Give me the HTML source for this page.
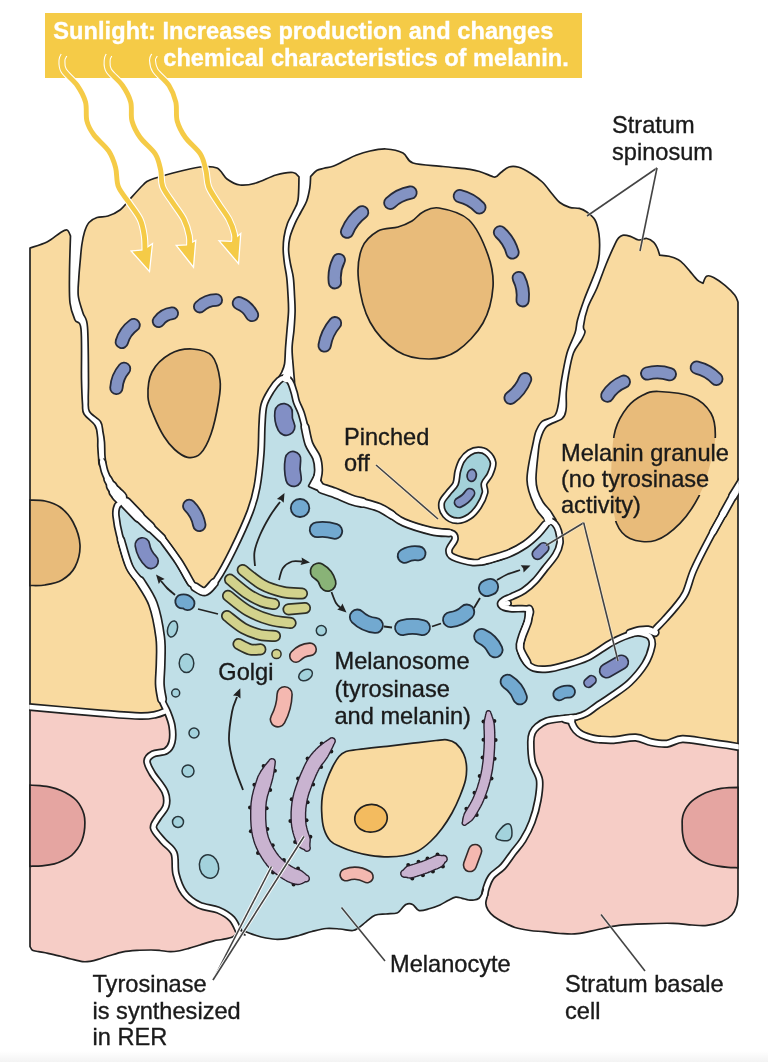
<!DOCTYPE html>
<html><head><meta charset="utf-8"><title>Melanocyte</title><style>html,body{margin:0;padding:0;background:#fff}svg{display:block}text{font-family:"Liberation Sans",sans-serif}</style></head>
<body>
<svg width="768" height="1062" viewBox="0 0 768 1062">
<defs><linearGradient id="bg" x1="0" y1="0" x2="0" y2="1"><stop offset="0" stop-color="#fff"/><stop offset="1" stop-color="#f3f3f3"/></linearGradient><mask id="mk" maskUnits="userSpaceOnUse" x="0" y="0" width="768" height="1062"><rect width="768" height="1062" fill="#fff"/><rect x="557" y="438" width="175" height="30" fill="#000"/><rect x="557" y="466" width="156" height="29" fill="#000"/><rect x="557" y="493" width="89" height="28" fill="#000"/></mask><clipPath id="cl"><rect x="29.2" y="0" width="709.6" height="1062"/></clipPath></defs>
<rect x="0" y="0" width="768" height="1062" fill="#ffffff"/>
<rect x="0" y="1051" width="768" height="11" fill="url(#bg)"/>
<rect x="45" y="13" width="537" height="65" fill="#F5CB47"/>
<path d="M30 248C32.8 247 42 244.5 47 242C52 239.5 56.7 235 60 233C63.3 231 65.2 229.5 67 230C68.8 230.5 69.9 235 70.5 236C70.3 242.2 69.6 261.8 69.5 273C69.4 284.2 69.1 295.2 70 303C70.9 310.8 73.2 315.7 75 320C76.8 324.3 79.9 319 81 329C82.1 339 81.2 367.5 81.5 380C81.8 392.5 82.1 398.3 82.5 404C82.9 409.7 81.9 410.4 84 414C86.1 417.6 92.7 421.7 95 425.5C97.3 429.3 97.1 433.4 97.6 437C98.1 440.6 97.6 443.5 97.8 447C98 450.5 98.3 455 98.6 458C98.8 461 98.6 463.3 99.3 465C100 466.7 102 467.5 102.5 468C103.4 469.9 105.9 475.6 108 479.5C110.1 483.4 113.2 488.4 115 491.5C116.8 494.6 118.2 495.4 118.5 498C118.8 500.6 117.2 505.5 117 507L130 520L175 600L180 712C177.7 711.8 170 710.6 166 711C162 711.4 160.3 713.7 156 714.5C151.7 715.3 149.3 716.2 140 716C130.7 715.8 118.3 714.7 100 713.2C81.7 711.7 41.7 708 30 707L30 248Z" fill="#F9DAA0" stroke="#212121" stroke-width="1.7" stroke-linejoin="round"/>
<path d="M299 177C298.8 180.8 299 194.2 298 200C297 205.8 294.8 208.1 293 212C291.2 215.9 289 219.1 287.5 223.3C286 227.5 284.7 232.5 284 237C283.3 241.5 283.1 245.8 283.2 250.3C283.3 254.8 283.9 259.5 284.5 264C285.1 268.5 286.1 272.1 286.7 277.3C287.3 282.5 287.7 289.3 288 295C288.3 300.7 288.7 305.8 288.5 311.6C288.3 317.4 287.5 323.9 287 330C286.5 336.1 285.9 342.6 285.5 348.3C285.1 354 285.2 360 284.5 364C283.8 368 282.6 370.2 281.5 372.5C280.4 374.8 278.6 377.1 278 378L290 390L290 480L250 570L206 610L160 560L122 506C121.4 504.7 119.7 500.4 118.5 498C117.3 495.6 116.8 494.6 115 491.5C113.2 488.4 110.1 483.4 108 479.5C105.9 475.6 103.4 469.9 102.5 468C103 467.5 105.3 467.2 105.7 465C106.1 462.8 105.1 458.8 104.9 455C104.7 451.2 104.8 445.8 104.5 442C104.2 438.2 103.7 435.4 103 432C102.3 428.6 102.8 424.9 100.5 421.5C98.2 418.1 91.5 415.1 89.5 411.5C87.5 407.9 88.5 405.2 88.3 400C88.1 394.8 88.6 392.2 88.5 380C88.4 367.8 88.4 338.2 87.5 327C86.6 315.8 84.5 318.2 83 313C81.5 307.8 79 301.8 78.3 296C77.6 290.2 78.5 283.8 78.8 278C79.1 272.2 79.7 266.5 80.2 261C80.7 255.5 81.1 249.8 81.8 245C82.5 240.2 83.3 235.8 84.5 232C85.7 228.2 86.9 224.9 89 222.5C91.1 220.1 93.8 218.6 97 217.5C100.2 216.4 104.2 217.2 108 216C111.8 214.8 116.3 212.8 120 210C123.7 207.2 126.2 203.2 130 199C133.8 194.8 139.7 188.2 143 185C146.3 181.8 145 182 150 180C155 178 164.7 175.2 173 173C181.3 170.8 192.7 167.8 200 167C207.3 166.2 212.5 166 217 168C221.5 170 223.2 176.2 227 179C230.8 181.8 235.2 184.3 240 185C244.8 185.7 250 184.7 256 183C262 181.3 269.8 176.8 276 175C282.2 173.2 289.2 172.2 293 172.5C296.8 172.8 298 176.2 299 177Z" fill="#F9DAA0" stroke="#212121" stroke-width="1.7" stroke-linejoin="round"/>
<path d="M310.6 176.5C311.6 175.5 314.5 171.9 316.7 170.5C318.9 169.1 321.3 169 324 168.3C326.7 167.6 329.5 167.6 333 166.3C336.5 165 341.2 162.3 345 160.5C348.8 158.7 351.8 156.9 356 155.3C360.2 153.7 365 152.1 370 151C375 149.9 380.5 148.7 386 149C391.5 149.3 398.5 150.7 403 153C407.5 155.3 406.3 160.8 413 163C419.7 165.2 433.5 165.4 443 166.5C452.5 167.6 463.6 168.4 470 169.3C476.4 170.2 478.1 171.1 481.7 172.2C485.3 173.3 489.1 175.3 491.5 176.1C493.9 176.9 494.2 177.5 495.8 176.8C497.4 176.2 499 173.8 501.2 172.2C503.4 170.6 506.1 167.8 509 167C511.9 166.2 515.2 166.3 518.8 167.3C522.4 168.3 526.6 170.8 530.5 173.2C534.4 175.6 538.7 178.6 542.3 182C545.9 185.4 549.1 190.3 552 193.7C554.9 197.1 556.9 200.2 559.8 202.5C562.7 204.8 566.3 206.4 569.6 207.4C572.9 208.4 576.5 207.6 579.4 208.4C582.3 209.2 584.6 210.4 587.2 212.3C589.8 214.2 593 216.4 595 220C597 223.6 598.1 228.7 598.9 233.7C599.6 238.7 599.8 244.4 599.5 250C599.2 255.6 599.6 258.7 597 267C594.4 275.3 587.2 291.2 584 300C580.8 308.8 579 314.5 577.5 320C576 325.5 576.8 327.5 575 333C573.2 338.5 569.2 345.2 567 353C564.8 360.8 563 371.3 561.5 380C560 388.7 559.4 399 558.2 405C557 411 556.9 413.3 554.3 416C551.7 418.7 545.4 418.9 542.4 421.2C539.4 423.5 538 426.7 536.5 430C535 433.3 535.1 432.7 533.5 441C531.9 449.3 526.8 469 527 480C527.2 491 532 500.3 535 507C538 513.7 543.3 517.8 545 520L555 535L520 570L470 585L400 545L330 510L300 480L295 400L294.5 381C294.3 378.8 293.8 373.4 293.4 368C293 362.6 292 354.6 292.1 348.3C292.2 342 293.5 336.1 294 330C294.5 323.9 295 317.4 295.1 311.6C295.2 305.8 294.8 300.7 294.5 295C294.2 289.3 294 282.5 293.3 277.3C292.6 272.1 291.3 268.5 290.5 264C289.7 259.5 288.7 254.8 288.6 250.3C288.5 245.8 288.9 241.5 290 237C291.1 232.5 293.3 227.5 295.1 223.3C296.9 219.1 299.1 215.7 301 212C302.9 208.3 305.1 205.3 306.6 201.3C308.1 197.3 309.1 192.1 309.8 188C310.5 183.9 310.5 178.4 310.6 176.5Z" fill="#F9DAA0" stroke="#212121" stroke-width="1.7" stroke-linejoin="round"/>
<path d="M556 520C555 518.4 552.2 513.5 550 510.5C547.8 507.5 545.1 505.4 543 502C540.9 498.6 538.7 494 537.5 490C536.3 486 535.9 483.8 536 478C536.1 472.2 537.3 461.2 538 455C538.7 448.8 538.6 445.7 540 441C541.4 436.3 542.7 430.5 546.4 426.8C550.1 423.1 558.9 421.5 562.2 418.6C565.5 415.7 565.4 413.8 566.1 409.4C566.8 405 565.9 397.9 566.3 392.2C566.7 386.5 567.3 381.5 568.5 375C569.7 368.5 571.3 358.8 573.5 353C575.7 347.2 579.6 343.5 581.5 340C583.4 336.5 584.7 334.3 585 332C585.3 329.7 583 330.2 583.5 326C584 321.8 585.8 313.3 588 307C590.2 300.7 594 295.1 597 288C600 280.9 603 271.9 606 264.5C609 257.1 613.1 248 615.2 243.6C617.3 239.2 617.3 239.4 618.5 238C619.7 236.6 620.5 235.6 622.5 235.3C624.5 235 627.7 235.6 630.4 236.4C633.1 237.2 635.9 239.7 638.6 240C641.3 240.3 644.3 238.1 646.8 238.5C649.3 238.9 652 240.6 653.8 242.3C655.6 244 656.5 246.3 657.5 248.5C658.5 250.7 659.3 254.1 659.7 255.2C661.2 255.4 665.9 255.5 669 256.3C672.1 257.1 675.8 258.4 678.4 259.8C681 261.2 682.5 263 684.5 265C686.5 267 688.1 269.1 690.2 271.6C692.3 274.1 695.1 277.9 697.2 279.8C699.3 281.8 702 282.7 703 283.3C703.6 282.1 704.8 277.2 706.6 276.2C708.4 275.2 710.5 275.8 713.6 277.4C716.7 279 721.8 282.7 725.3 285.6C728.8 288.5 732.6 292.3 734.7 295C736.8 297.7 737.5 300.8 738 302L738 486.5C737 488.4 734.1 494.1 732 498C729.9 501.9 729.2 503 725.3 510C721.4 517 714 530 708.7 540C703.4 550 697.6 561.2 693.7 570C689.8 578.8 688.5 586.8 685.5 593C682.5 599.2 678.9 602.7 675.5 607C672.1 611.3 668.3 615.3 665 619C661.7 622.7 659.7 623 655.5 629C651.3 635 642.6 650.7 640 655L600 680L540 690L505 650L495 600L520 580L550 555L556 520Z" fill="#F9DAA0" stroke="#212121" stroke-width="1.7" stroke-linejoin="round"/>
<path d="M738 486.5C737 488.4 734.1 494.1 732 498C729.9 501.9 729.2 503 725.3 510C721.4 517 714 530 708.7 540C703.4 550 697.6 561.2 693.7 570C689.8 578.8 688.5 586.8 685.5 593C682.5 599.2 678.9 602.7 675.5 607C672.1 611.3 668.3 615.3 665 619C661.7 622.7 658 622.2 655.5 629C653 635.8 650.9 654.8 650 660L600 690L565 712C566 712.9 569.8 715.6 571 717.5C572.2 719.4 571.2 721.4 572 723.5C572.8 725.6 574.1 728.1 575.8 730C577.5 731.9 579.2 733.4 582 734.8C584.8 736.2 589.5 737.6 592.5 738.4C595.5 739.2 596.5 739.2 600 739.5C603.5 739.8 607.8 740.3 613.7 740C619.6 739.7 629.4 737.1 635.6 737.5C641.9 737.9 646 741.2 651.2 742.2C656.4 743.2 661.7 744.2 666.9 743.7C672.1 743.2 675.7 739.2 682.5 739C689.3 738.8 698.2 740.9 707.5 742.2C716.8 743.5 732.9 746.1 738 746.9L738 486.5Z" fill="#F9DAA0" stroke="#212121" stroke-width="1.7" stroke-linejoin="round"/>
<path d="M30 707C41.7 708 81.7 711.7 100 713.2C118.3 714.7 130.7 715.8 140 716C149.3 716.2 151.7 715.3 156 714.5C160.3 713.7 160.3 710.1 166 711C171.7 711.9 186 718.5 190 720L190 880L245 935L238 932C237.1 932.8 235.2 935.8 232.5 937C229.8 938.2 225.1 938.9 222 939.5C218.9 940.1 217.4 939.9 213.7 940.8C210 941.7 204.2 943.7 200 945C195.8 946.3 192.4 947.4 188.7 948.4C185 949.4 181.1 950.5 178 951C174.9 951.5 173 951.7 170 951.6C167 951.5 163.2 950.8 160 950.5C156.8 950.2 154.8 950 151 950C147.2 950 141.7 950 137 950.3C132.3 950.6 127.5 950.9 123 951.8C118.5 952.7 114.2 954.2 110 955.5C105.8 956.8 101.3 958.4 98 959.4C94.7 960.4 92.6 960.9 90 961.3C87.4 961.7 85.7 962 82.5 961.6C79.3 961.2 74.7 959.9 71 959C67.3 958.1 64.4 957.2 60.6 956.2C56.8 955.2 51.6 954.1 48 953.3C44.4 952.5 41.3 952.1 38.7 951.6C36.1 951.1 34 951.1 32.5 950.3C31.1 949.4 30.4 947.1 30 946.5L30 707Z" fill="#F6CDC6" stroke="#212121" stroke-width="1.7" stroke-linejoin="round"/>
<path d="M738 746.9C732.9 746.1 716.8 743.5 707.5 742.2C698.2 740.9 689.3 738.8 682.5 739C675.7 739.2 672.1 743.2 666.9 743.7C661.7 744.2 656.4 743.2 651.2 742.2C646 741.2 641.9 737.9 635.6 737.5C629.4 737.1 619.6 739.7 613.7 740C607.8 740.3 603.5 739.8 600 739.5C596.5 739.2 595.5 739.2 592.5 738.4C589.5 737.6 584.8 736.2 582 734.8C579.2 733.4 577.5 731.9 575.8 730C574.1 728.1 572.8 725.6 572 723.5C571.2 721.4 573 719.4 571 717.5C569 715.6 561.8 712.9 560 712L515 730L515 840L478 890L487.5 895.5C487.2 896.8 485.7 901 485.8 903.4C485.9 905.8 486.6 907.8 488 910C489.4 912.2 491.3 914.4 494 916.5C496.7 918.6 500.5 920.7 504 922.5C507.5 924.3 510.7 926.2 515 927.5C519.3 928.8 525.2 929.8 530 930.5C534.8 931.2 539 931.2 544 931.7C549 932.2 554.4 933.2 560 933.5C565.6 933.8 571.2 934.4 577.5 933.7C583.8 933 591.1 930.9 598 929.5C604.9 928.1 611.2 926.4 619 925.4C626.8 924.4 636 924.1 645 923.8C654 923.4 665.2 923.1 673 923.3C680.8 923.5 686.3 924.6 692 925C697.7 925.4 702 926 707 925.4C712 924.8 717.9 923.2 722 921.5C726.1 919.8 729.3 917.6 731.7 915C734.1 912.4 735.5 909.3 736.5 906C737.5 902.7 737.8 896.8 738 895L738 746.9Z" fill="#F6CDC6" stroke="#212121" stroke-width="1.7" stroke-linejoin="round"/>
<path d="M30 500C32.5 500.2 40 499.8 45 501C50 502.2 55.3 503.5 60 507C64.7 510.5 69.7 515.7 73 522C76.3 528.3 79.7 537.5 80 545C80.3 552.5 78 561.2 75 567C72 572.8 67 577 62 580C57 583 50.3 584.1 45 585C39.7 585.9 32.5 585.4 30 585.5L30 500Z" fill="#E8BB7A" stroke="#212121" stroke-width="1.7"/>
<path d="M192 349C199 349.3 207.3 350.8 212 356C216.7 361.2 218.9 372.3 220 380C221.1 387.7 220 393 218.5 402C217 411 214 425.4 211 434C208 442.6 204.4 449.6 200.5 453.5C196.6 457.4 191.9 458 187.6 457.3C183.3 456.6 178.5 453 174.6 449.5C170.7 446 167.5 442.1 164 436.5C160.5 430.9 156.4 422.2 153.7 415.6C151 409 148.3 404.3 148 397C147.7 389.7 148.3 379.2 152 372C155.7 364.8 163.3 357.8 170 354C176.7 350.2 185 348.7 192 349Z" fill="#E8BB7A" stroke="#212121" stroke-width="1.7"/>
<path d="M358.5 280C357.2 267.7 358.8 256.2 362 248C365.2 239.8 372 234.5 378 231C384 227.5 392.3 228.7 398 227C403.7 225.3 407.8 223.5 412 221C416.2 218.5 418.5 214.2 423 212C427.5 209.8 431.3 206.7 439 208C446.7 209.3 460.8 212.2 469 220C477.2 227.8 484 243.8 488 255C492 266.2 493.8 275.7 493 287C492.2 298.3 489 312.3 483 323C477 333.7 466 345 457 351C448 357 439 359 429 359C419 359 406.8 357.2 397 351C387.2 344.8 376.4 333.8 370 322C363.6 310.2 359.8 292.3 358.5 280Z" fill="#E8BB7A" stroke="#212121" stroke-width="1.7"/>
<path d="M658.7 391.5C666.9 391.8 683.3 393.1 692 396.7C700.7 400.3 707.1 406.6 711 413.3C714.9 420 715.5 427.8 715.3 436.7C715 445.6 712.3 456.7 709.5 466.7C706.7 476.7 703.6 487.3 698.7 496.7C693.8 506.1 687.2 516 680 523.3C672.8 530.6 663.6 538 655.3 540.5C647 543 636.5 541.4 630 538.5C623.5 535.6 619.5 530.8 616.5 523.3C613.5 515.8 612.8 503.3 612 493.3C611.2 483.3 611 473.9 611.5 463.3C612 452.8 612.6 439.4 615.3 430C618 420.6 622.9 412.8 627.5 407C632.1 401.2 637.8 397.6 643 395C648.2 392.4 650.5 391.2 658.7 391.5Z" fill="#E8BB7A"/>
<g mask="url(#mk)"><path d="M658.7 391.5C666.9 391.8 683.3 393.1 692 396.7C700.7 400.3 707.1 406.6 711 413.3C714.9 420 715.5 427.8 715.3 436.7C715 445.6 712.3 456.7 709.5 466.7C706.7 476.7 703.6 487.3 698.7 496.7C693.8 506.1 687.2 516 680 523.3C672.8 530.6 663.6 538 655.3 540.5C647 543 636.5 541.4 630 538.5C623.5 535.6 619.5 530.8 616.5 523.3C613.5 515.8 612.8 503.3 612 493.3C611.2 483.3 611 473.9 611.5 463.3C612 452.8 612.6 439.4 615.3 430C618 420.6 622.9 412.8 627.5 407C632.1 401.2 637.8 397.6 643 395C648.2 392.4 650.5 391.2 658.7 391.5Z" fill="none" stroke="#212121" stroke-width="1.7"/></g>
<path d="M30 785.2C31.7 785.3 36.5 785.2 40 785.6C43.5 786 47.7 786.5 51.2 787.3C54.7 788.1 57.9 789.2 61 790.5C64.1 791.8 67.4 793.5 70 795.2C72.6 796.9 74.7 798.5 76.5 800.5C78.3 802.5 79.7 804.6 80.9 806.9C82.2 809.2 83.3 811.9 84 814.5C84.7 817.1 84.9 819.6 84.9 822.5C84.9 825.4 84.7 828.9 84.2 832C83.7 835.1 82.8 838.4 81.7 841.2C80.6 844 79.2 846.4 77.5 848.8C75.8 851.1 73.9 853.4 71.6 855.3C69.3 857.2 66.4 858.9 63.5 860.3C60.6 861.7 58 863 54.4 863.9C50.8 864.8 46.1 865.4 42 865.8C37.9 866.2 32 866.2 30 866.3L30 785.2Z" fill="#E5A5A1" stroke="#212121" stroke-width="1.7"/>
<path d="M738 787.3C736.7 787.3 732.8 787.4 730 787.6C727.2 787.8 724 788 721.2 788.4C718.4 788.8 715.6 789.5 713 790.2C710.4 790.9 708.1 791.7 705.6 792.8C703.1 793.9 700.3 795.3 698 796.7C695.7 798.1 693.5 799.7 691.6 801.4C689.7 803.1 688.1 805.1 686.8 807C685.5 808.9 684.5 811 683.7 813C683 815 682.5 816.9 682.3 819C682 821.1 682.2 823.3 682.2 825.6C682.2 827.9 682.2 830.6 682.5 833C682.8 835.4 683.1 837.5 683.7 839.7C684.3 841.9 685.2 844.2 686.2 846.3C687.2 848.4 688.4 850.4 690 852.2C691.6 854 693.6 855.7 695.7 857.3C697.8 858.9 700.1 860.4 702.5 861.6C704.9 862.8 707.4 863.7 710 864.5C712.6 865.3 715 865.7 718 866.2C721 866.7 724.7 867.1 728 867.4C731.3 867.7 736.3 867.7 738 867.8L738 787.3Z" fill="#E5A5A1" stroke="#212121" stroke-width="1.7"/>
<path d="M239 932C237.8 929.8 235.5 922.7 232 919C228.5 915.3 223.5 912.3 218 910C212.5 907.7 204.7 907.8 199 905C193.3 902.2 187.8 898.2 184 893C180.2 887.8 177.7 880.7 176 874C174.3 867.3 176.2 858.5 174 853C171.8 847.5 166.4 845.2 163 841C159.6 836.8 154.3 831.8 153.5 828C152.7 824.2 155.9 821.7 158 818C160.1 814.3 164.8 810.3 166 806C167.2 801.7 167.3 797.5 165 792C162.7 786.5 155 778.2 152 773C149 767.8 146.8 764.2 147 761C147.2 757.8 149.8 755.7 153 754C156.2 752.3 162.8 753 166 751C169.2 749 171 746.2 172 742C173 737.8 172.8 731 172 726C171.2 721 169.2 716.3 167.5 712C165.8 707.7 163.3 704.7 162 700C160.7 695.3 160 690.1 159.8 684C159.6 677.9 160.5 671.1 160.6 663.3C160.7 655.5 161.5 647.2 160.2 637.3C158.9 627.4 155.7 612.2 153 604C150.3 595.8 147.9 594.2 144 588C140.1 581.8 133.6 575.8 129.5 567C125.4 558.2 121.8 543.5 119.5 535C117.2 526.5 116.5 520.5 116 516C115.5 511.5 115.9 510.1 116.5 508C117.1 505.9 118 504.3 119.5 503.5C121 502.7 122.6 500.8 125.8 503C129 505.2 132.9 510.7 138.8 516.5C144.8 522.3 154.9 530.5 161.5 538C168.1 545.5 173.6 554 178.5 561.5C183.4 569 186.6 578 191 583C195.4 588 200.7 592.2 205 591.5C209.3 590.8 212.3 585.9 217 579C221.7 572.1 227.5 561.2 233 550C238.5 538.8 246 522.5 250 512C254 501.5 255.2 496.8 257 487C258.8 477.2 260.2 463.3 261 453C261.8 442.7 261.5 433 262 425C262.5 417 262.4 410.8 264 405C265.6 399.2 269 394.1 271.5 390C274 385.9 276.8 382.5 279 380.5C281.2 378.5 282.7 377.8 284.5 378C286.3 378.2 288.4 379.2 290 381.5C291.6 383.8 292.9 388.6 294 392C295.1 395.4 295.3 398.5 296.5 402C297.7 405.5 299.7 408.5 301.2 413C302.7 417.5 304.2 423.8 305.5 429C306.8 434.2 307.2 439.2 309 444C310.8 448.8 314.9 453.2 316.5 457.5C318.1 461.8 318.5 466 318.5 470C318.5 474 315.9 478.4 316.5 481.5C317.1 484.6 319.1 486.7 322 488.5C324.9 490.3 330.5 491.2 334 492.5C337.5 493.8 339.8 495 343 496.3C346.2 497.6 349.8 499.4 353.5 500.5C357.2 501.6 360.8 501.8 365 503C369.2 504.2 374.5 505.5 379 507.5C383.5 509.5 387.8 512.5 392 515C396.2 517.5 397.5 519.8 404 522.5C410.5 525.2 423.2 529.2 431 531C438.8 532.8 447 531.7 451 533C455 534.3 455.3 536.2 455 539C454.7 541.8 449.3 547 449 550C448.7 553 449 554.9 453 557C457 559.1 466.8 562 473 562.5C479.2 563 484.1 561.5 490 560C495.9 558.5 502.4 556.2 508.3 553.6C514.2 551 520.4 547.7 525.2 544.5C530 541.3 533.7 537.8 537 534.5C540.3 531.2 542.8 527.2 545 525C547.2 522.8 548.3 521.7 550 521.5C551.7 521.3 553.6 522.4 555 524C556.4 525.6 557.7 527.8 558.5 531C559.3 534.2 560.5 539 560 543C559.5 547 558 550.8 555.5 555C553 559.2 548.4 564.2 545 568.5C541.6 572.8 538.5 577.3 535 581C531.5 584.7 527.8 587.9 524 590.5C520.2 593.1 515.3 594.9 512 596.5C508.7 598.1 505.9 598.8 504 600C502.1 601.2 500.5 602.5 500.5 603.7C500.5 604.9 502.1 606.4 504 607.3C505.9 608.1 507.8 608.4 512 608.8C516.2 609.2 526.9 607.5 529.5 609.5C532.1 611.5 528.8 616.4 527.5 621C526.2 625.6 523.2 632.2 522 637C520.8 641.8 519.8 645.8 520.5 650C521.2 654.2 523.8 659 526 662C528.2 665 530.3 667 534 668.2C537.7 669.4 543 669.4 548 669C553 668.6 557.2 667.5 563.7 665.6C570.2 663.7 579.1 661.7 587.2 657.8C595.3 653.9 604.4 646.3 612.2 642.2C620 638.1 628.6 634.7 634 633.3C639.4 631.9 641.8 633.3 644.5 634C647.2 634.7 649.2 635.5 650.5 637.5C651.8 639.5 652.9 641.6 652 646C651.1 650.4 648.8 657.9 645 664C641.2 670.1 635.1 677.3 629.4 682.8C623.7 688.2 616 692.8 610.6 696.7C605.2 700.6 600.8 703.2 596.7 706C592.6 708.8 589.5 711.6 586.2 713.4C582.9 715.2 581.1 715.9 577 716.8C572.9 717.6 566.8 717.8 561.7 718.5C556.6 719.2 550.6 719.7 546.5 721C542.4 722.3 539.7 724.5 537.3 726.5C534.9 728.5 533.4 730.4 532.3 733C531.2 735.6 530.8 737.1 530.8 742C530.8 746.9 531 756.2 532.5 762.5C534 768.8 538.6 773.8 539.5 780C540.4 786.2 539.2 793 538 800C536.8 807 534.5 815.3 532 822C529.5 828.7 526.2 834.8 523 840C519.8 845.2 516.3 848.6 513 853C509.7 857.4 506.6 862.6 503 866.5C499.4 870.4 494.3 872.9 491.5 876.5C488.7 880.1 487.3 884.9 486.2 888C485.1 891.1 485 893.8 484.8 895L483.3 889C483 889.9 482.2 893 481.5 894.5C480.8 896 480.2 897.3 479 898.2C477.8 899.1 475.7 899.7 474 900C472.3 900.3 470.6 900.3 468.6 900C466.6 899.7 464.2 898.8 462 898.3C459.8 897.8 457.9 896.8 455.6 897.2C453.3 897.6 450.6 899.2 448 900.5C445.4 901.8 443 903.7 440 905C437 906.3 433.5 907.6 430 908.5C426.5 909.4 422.1 911.3 419.2 910.6C416.3 909.9 414.8 905.4 412.6 904.4C410.4 903.4 407.9 903.5 406 904.4C404.1 905.2 402.5 908.1 401 909.5C399.5 910.9 399.5 912.2 397 913C394.5 913.8 389.7 913.6 386 914C382.3 914.4 378.3 914 375 915.3C371.7 916.6 368.7 919.9 366 921.9C363.3 923.9 361.2 926.1 359 927.5C356.8 928.9 356 930.2 352.8 930.5C349.6 930.8 344.4 929.3 340 929C335.6 928.7 330.9 928.1 326.2 928.5C321.5 928.9 316.4 930.4 312 931.5C307.6 932.6 303.7 934.1 299.7 935.2C295.7 936.3 291.7 937.6 288 938.3C284.3 939 281.2 939.4 277.5 939.4C273.8 939.4 269.7 938.7 266 938C262.3 937.3 258.9 936.3 255.4 935.2C251.9 934.1 247.7 932.4 245 931.5C242.3 930.6 240 930.2 239 930Z" fill="#C0DFE7"/>
<g clip-path="url(#cl)">
<path d="M239 932C237.8 929.8 235.5 922.7 232 919C228.5 915.3 223.5 912.3 218 910C212.5 907.7 204.7 907.8 199 905C193.3 902.2 187.8 898.2 184 893C180.2 887.8 177.7 880.7 176 874C174.3 867.3 176.2 858.5 174 853C171.8 847.5 166.4 845.2 163 841C159.6 836.8 154.3 831.8 153.5 828C152.7 824.2 155.9 821.7 158 818C160.1 814.3 164.8 810.3 166 806C167.2 801.7 167.3 797.5 165 792C162.7 786.5 155 778.2 152 773C149 767.8 146.8 764.2 147 761C147.2 757.8 149.8 755.7 153 754C156.2 752.3 162.8 753 166 751C169.2 749 171 746.2 172 742C173 737.8 172.8 731 172 726C171.2 721 169.2 716.3 167.5 712C165.8 707.7 163.3 704.7 162 700C160.7 695.3 160 690.1 159.8 684C159.6 677.9 160.5 671.1 160.6 663.3C160.7 655.5 161.5 647.2 160.2 637.3C158.9 627.4 155.7 612.2 153 604C150.3 595.8 147.9 594.2 144 588C140.1 581.8 133.6 575.8 129.5 567C125.4 558.2 121.8 543.5 119.5 535C117.2 526.5 116.5 520.5 116 516C115.5 511.5 115.9 510.1 116.5 508C117.1 505.9 118 504.3 119.5 503.5C121 502.7 122.6 500.8 125.8 503C129 505.2 132.9 510.7 138.8 516.5C144.8 522.3 154.9 530.5 161.5 538C168.1 545.5 173.6 554 178.5 561.5C183.4 569 186.6 578 191 583C195.4 588 200.7 592.2 205 591.5C209.3 590.8 212.3 585.9 217 579C221.7 572.1 227.5 561.2 233 550C238.5 538.8 246 522.5 250 512C254 501.5 255.2 496.8 257 487C258.8 477.2 260.2 463.3 261 453C261.8 442.7 261.5 433 262 425C262.5 417 262.4 410.8 264 405C265.6 399.2 269 394.1 271.5 390C274 385.9 276.8 382.5 279 380.5C281.2 378.5 282.7 377.8 284.5 378C286.3 378.2 288.4 379.2 290 381.5C291.6 383.8 292.9 388.6 294 392C295.1 395.4 295.3 398.5 296.5 402C297.7 405.5 299.7 408.5 301.2 413C302.7 417.5 304.2 423.8 305.5 429C306.8 434.2 307.2 439.2 309 444C310.8 448.8 314.9 453.2 316.5 457.5C318.1 461.8 318.5 466 318.5 470C318.5 474 315.9 478.4 316.5 481.5C317.1 484.6 319.1 486.7 322 488.5C324.9 490.3 330.5 491.2 334 492.5C337.5 493.8 339.8 495 343 496.3C346.2 497.6 349.8 499.4 353.5 500.5C357.2 501.6 360.8 501.8 365 503C369.2 504.2 374.5 505.5 379 507.5C383.5 509.5 387.8 512.5 392 515C396.2 517.5 397.5 519.8 404 522.5C410.5 525.2 423.2 529.2 431 531C438.8 532.8 447 531.7 451 533C455 534.3 455.3 536.2 455 539C454.7 541.8 449.3 547 449 550C448.7 553 449 554.9 453 557C457 559.1 466.8 562 473 562.5C479.2 563 484.1 561.5 490 560C495.9 558.5 502.4 556.2 508.3 553.6C514.2 551 520.4 547.7 525.2 544.5C530 541.3 533.7 537.8 537 534.5C540.3 531.2 542.8 527.2 545 525C547.2 522.8 548.3 521.7 550 521.5C551.7 521.3 553.6 522.4 555 524C556.4 525.6 557.7 527.8 558.5 531C559.3 534.2 560.5 539 560 543C559.5 547 558 550.8 555.5 555C553 559.2 548.4 564.2 545 568.5C541.6 572.8 538.5 577.3 535 581C531.5 584.7 527.8 587.9 524 590.5C520.2 593.1 515.3 594.9 512 596.5C508.7 598.1 505.9 598.8 504 600C502.1 601.2 500.5 602.5 500.5 603.7C500.5 604.9 502.1 606.4 504 607.3C505.9 608.1 507.8 608.4 512 608.8C516.2 609.2 526.9 607.5 529.5 609.5C532.1 611.5 528.8 616.4 527.5 621C526.2 625.6 523.2 632.2 522 637C520.8 641.8 519.8 645.8 520.5 650C521.2 654.2 523.8 659 526 662C528.2 665 530.3 667 534 668.2C537.7 669.4 543 669.4 548 669C553 668.6 557.2 667.5 563.7 665.6C570.2 663.7 579.1 661.7 587.2 657.8C595.3 653.9 604.4 646.3 612.2 642.2C620 638.1 628.6 634.7 634 633.3C639.4 631.9 641.8 633.3 644.5 634C647.2 634.7 649.2 635.5 650.5 637.5C651.8 639.5 652.9 641.6 652 646C651.1 650.4 648.8 657.9 645 664C641.2 670.1 635.1 677.3 629.4 682.8C623.7 688.2 616 692.8 610.6 696.7C605.2 700.6 600.8 703.2 596.7 706C592.6 708.8 589.5 711.6 586.2 713.4C582.9 715.2 581.1 715.9 577 716.8C572.9 717.6 566.8 717.8 561.7 718.5C556.6 719.2 550.6 719.7 546.5 721C542.4 722.3 539.7 724.5 537.3 726.5C534.9 728.5 533.4 730.4 532.3 733C531.2 735.6 530.8 737.1 530.8 742C530.8 746.9 531 756.2 532.5 762.5C534 768.8 538.6 773.8 539.5 780C540.4 786.2 539.2 793 538 800C536.8 807 534.5 815.3 532 822C529.5 828.7 526.2 834.8 523 840C519.8 845.2 516.3 848.6 513 853C509.7 857.4 506.6 862.6 503 866.5C499.4 870.4 494.3 872.9 491.5 876.5C488.7 880.1 487.3 884.9 486.2 888C485.1 891.1 485 893.8 484.8 895" fill="none" stroke="#212121" stroke-width="7.8" stroke-linejoin="round" stroke-linecap="butt"/>
<path d="M29.2 707C41 708 81.5 711.7 100 713.2C118.5 714.7 130.7 715.8 140 716C149.3 716.2 151.7 715.3 156 714.5C160.3 713.7 164.3 711.6 166 711" fill="none" stroke="#212121" stroke-width="8" stroke-linejoin="round" stroke-linecap="butt"/>
<path d="M738.8 746.9C733.6 746.1 716.9 743.5 707.5 742.2C698.1 740.9 689.3 738.8 682.5 739C675.7 739.2 672.1 743.2 666.9 743.7C661.7 744.2 656.4 743.2 651.2 742.2C646 741.2 641.9 737.9 635.6 737.5C629.4 737.1 619.6 739.7 613.7 740C607.8 740.3 603.5 739.8 600 739.5C596.5 739.2 595.5 739.2 592.5 738.4C589.5 737.6 584.8 736.2 582 734.8C579.2 733.4 577.5 731.9 575.8 730C574.1 728.1 572.8 725.6 572 723.5C571.2 721.4 571.2 718.5 571 717.5" fill="none" stroke="#212121" stroke-width="8.4" stroke-linejoin="round" stroke-linecap="butt"/>
<path d="M738.8 486.5C737.7 488.4 734.2 494.1 732 498C729.8 501.9 729.2 503 725.3 510C721.4 517 714 530 708.7 540C703.4 550 697.6 561.2 693.7 570C689.8 578.8 688.5 586.8 685.5 593C682.5 599.2 678.9 602.7 675.5 607C672.1 611.3 668.3 615.3 665 619C661.7 622.7 657.1 627.3 655.5 629" fill="none" stroke="#212121" stroke-width="7.8" stroke-linejoin="round" stroke-linecap="butt"/>
<path d="M742 481.5L733 496" fill="none" stroke="#212121" stroke-width="10" stroke-linejoin="round" stroke-linecap="round"/>
<path d="M733 496L723 514" fill="none" stroke="#212121" stroke-width="9.2" stroke-linejoin="round" stroke-linecap="round"/>
<path d="M723 514L713 532" fill="none" stroke="#212121" stroke-width="8.5" stroke-linejoin="round" stroke-linecap="round"/>
<path d="M140 581C142.2 584.8 149.6 594.6 153 604C156.4 613.4 158.9 627.4 160.2 637.3C161.5 647.2 160.7 655.5 160.6 663.3C160.5 671.1 159.6 678 159.8 684C160 690 161.6 696.5 162 699" fill="none" stroke="#212121" stroke-width="10.3" stroke-linejoin="round" stroke-linecap="round"/>
<path d="M195 587C196.7 587.8 201.8 592.2 205 591.5C208.2 590.8 212.5 584.4 214 583" fill="none" stroke="#212121" stroke-width="9.9" stroke-linejoin="round" stroke-linecap="round"/>
<path d="M102.4 462C102.8 463.5 103.6 468.1 104.5 471C105.4 473.9 107.4 478.1 108 479.5" fill="none" stroke="#212121" stroke-width="8.3" stroke-linejoin="round" stroke-linecap="round"/>
<path d="M108 479.5L111.5 486" fill="none" stroke="#212121" stroke-width="9.6" stroke-linejoin="round" stroke-linecap="round"/>
<path d="M111.5 486L115 491.5" fill="none" stroke="#212121" stroke-width="11.8" stroke-linejoin="round" stroke-linecap="round"/>
<path d="M115 491.5L118 495" fill="none" stroke="#212121" stroke-width="13.6" stroke-linejoin="round" stroke-linecap="round"/>
<path d="M118 495L120.5 497.5" fill="none" stroke="#212121" stroke-width="14.4" stroke-linejoin="round" stroke-linecap="round"/>
<path d="M125.8 503L138.8 516.5" fill="none" stroke="#212121" stroke-width="12.8" stroke-linejoin="round" stroke-linecap="round"/>
<path d="M138.8 516.5L150 527" fill="none" stroke="#212121" stroke-width="11.4" stroke-linejoin="round" stroke-linecap="round"/>
<path d="M150 527L161.5 538" fill="none" stroke="#212121" stroke-width="9.9" stroke-linejoin="round" stroke-linecap="round"/>
<path d="M161.5 538C164.3 541.9 173.6 554 178.5 561.5C183.4 569 188.9 579.4 191 583" fill="none" stroke="#212121" stroke-width="8.8" stroke-linejoin="round" stroke-linecap="round"/>
<path d="M121 540C122.4 544.5 126.3 560.2 129.5 567C132.7 573.8 138.2 578.7 140 581" fill="none" stroke="#212121" stroke-width="8.8" stroke-linejoin="round" stroke-linecap="round"/>
<path d="M305 427C305.7 429.8 307.1 438.9 309 444C310.9 449.1 314.9 453.2 316.5 457.5C318.1 461.8 318.4 466.2 318.5 470C318.6 473.8 317.2 478.3 317 480" fill="none" stroke="#212121" stroke-width="9.4" stroke-linejoin="round" stroke-linecap="round"/>
<path d="M309.4 486L315.6 474.5L320.5 470L319.8 480.5L323 485.5L327 487.5L324.5 492.2L316 488.8Z" fill="#212121" stroke="#212121" stroke-width="3.4" stroke-linejoin="round"/>
<path d="M322 488.5C324 489.2 330.5 491.2 334 492.5C337.5 493.8 339.8 495 343 496.3C346.2 497.6 350.3 499.5 353.5 500.5C356.7 501.5 360.6 502.2 362 502.5" fill="none" stroke="#212121" stroke-width="11.2" stroke-linejoin="round" stroke-linecap="round"/>
<path d="M362 502.5C364.8 503.3 374 505.4 379 507.5C384 509.6 389.8 513.8 392 515" fill="none" stroke="#212121" stroke-width="9.8" stroke-linejoin="round" stroke-linecap="round"/>
<path d="M392 515C394 516.2 397.5 519.8 404 522.5C410.5 525.2 423.5 529.2 431 531C438.5 532.8 446 532.7 449 533" fill="none" stroke="#212121" stroke-width="9" stroke-linejoin="round" stroke-linecap="round"/>
<path d="M482 561.3C486.4 560 501.1 556.4 508.3 553.6C515.5 550.8 520.4 547.7 525.2 544.5C530 541.3 533.6 537.8 537 534.5C540.4 531.2 544.1 526.2 545.5 524.5" fill="none" stroke="#212121" stroke-width="9" stroke-linejoin="round" stroke-linecap="round"/>
<path d="M503.5 603.7L508 603.4" fill="none" stroke="#212121" stroke-width="8" stroke-linejoin="round" stroke-linecap="round"/>
<path d="M529 609C528.8 611 529.2 616.3 528 621C526.8 625.7 523.3 632.5 522 637C520.7 641.5 519.2 643.8 520 648C520.8 652.2 525.8 659.7 527 662" fill="none" stroke="#212121" stroke-width="9" stroke-linejoin="round" stroke-linecap="round"/>
<path d="M565 719L571.5 720.5" fill="none" stroke="#212121" stroke-width="9" stroke-linejoin="round" stroke-linecap="round"/>
<path d="M630 633.3C631.7 632.8 637 631 640 630.5C643 630 645.5 629.7 648 630C650.5 630.3 653.8 632.1 655 632.5" fill="none" stroke="#212121" stroke-width="9.4" stroke-linejoin="round" stroke-linecap="round"/>
<path d="M239 932C237.8 929.8 235.5 922.7 232 919C228.5 915.3 223.5 912.3 218 910C212.5 907.7 204.7 907.8 199 905C193.3 902.2 187.8 898.2 184 893C180.2 887.8 177.7 880.7 176 874C174.3 867.3 176.2 858.5 174 853C171.8 847.5 166.4 845.2 163 841C159.6 836.8 154.3 831.8 153.5 828C152.7 824.2 155.9 821.7 158 818C160.1 814.3 164.8 810.3 166 806C167.2 801.7 167.3 797.5 165 792C162.7 786.5 155 778.2 152 773C149 767.8 146.8 764.2 147 761C147.2 757.8 149.8 755.7 153 754C156.2 752.3 162.8 753 166 751C169.2 749 171 746.2 172 742C173 737.8 172.8 731 172 726C171.2 721 169.2 716.3 167.5 712C165.8 707.7 163.3 704.7 162 700C160.7 695.3 160 690.1 159.8 684C159.6 677.9 160.5 671.1 160.6 663.3C160.7 655.5 161.5 647.2 160.2 637.3C158.9 627.4 155.7 612.2 153 604C150.3 595.8 147.9 594.2 144 588C140.1 581.8 133.6 575.8 129.5 567C125.4 558.2 121.8 543.5 119.5 535C117.2 526.5 116.5 520.5 116 516C115.5 511.5 115.9 510.1 116.5 508C117.1 505.9 118 504.3 119.5 503.5C121 502.7 122.6 500.8 125.8 503C129 505.2 132.9 510.7 138.8 516.5C144.8 522.3 154.9 530.5 161.5 538C168.1 545.5 173.6 554 178.5 561.5C183.4 569 186.6 578 191 583C195.4 588 200.7 592.2 205 591.5C209.3 590.8 212.3 585.9 217 579C221.7 572.1 227.5 561.2 233 550C238.5 538.8 246 522.5 250 512C254 501.5 255.2 496.8 257 487C258.8 477.2 260.2 463.3 261 453C261.8 442.7 261.5 433 262 425C262.5 417 262.4 410.8 264 405C265.6 399.2 269 394.1 271.5 390C274 385.9 276.8 382.5 279 380.5C281.2 378.5 282.7 377.8 284.5 378C286.3 378.2 288.4 379.2 290 381.5C291.6 383.8 292.9 388.6 294 392C295.1 395.4 295.3 398.5 296.5 402C297.7 405.5 299.7 408.5 301.2 413C302.7 417.5 304.2 423.8 305.5 429C306.8 434.2 307.2 439.2 309 444C310.8 448.8 314.9 453.2 316.5 457.5C318.1 461.8 318.5 466 318.5 470C318.5 474 315.9 478.4 316.5 481.5C317.1 484.6 319.1 486.7 322 488.5C324.9 490.3 330.5 491.2 334 492.5C337.5 493.8 339.8 495 343 496.3C346.2 497.6 349.8 499.4 353.5 500.5C357.2 501.6 360.8 501.8 365 503C369.2 504.2 374.5 505.5 379 507.5C383.5 509.5 387.8 512.5 392 515C396.2 517.5 397.5 519.8 404 522.5C410.5 525.2 423.2 529.2 431 531C438.8 532.8 447 531.7 451 533C455 534.3 455.3 536.2 455 539C454.7 541.8 449.3 547 449 550C448.7 553 449 554.9 453 557C457 559.1 466.8 562 473 562.5C479.2 563 484.1 561.5 490 560C495.9 558.5 502.4 556.2 508.3 553.6C514.2 551 520.4 547.7 525.2 544.5C530 541.3 533.7 537.8 537 534.5C540.3 531.2 542.8 527.2 545 525C547.2 522.8 548.3 521.7 550 521.5C551.7 521.3 553.6 522.4 555 524C556.4 525.6 557.7 527.8 558.5 531C559.3 534.2 560.5 539 560 543C559.5 547 558 550.8 555.5 555C553 559.2 548.4 564.2 545 568.5C541.6 572.8 538.5 577.3 535 581C531.5 584.7 527.8 587.9 524 590.5C520.2 593.1 515.3 594.9 512 596.5C508.7 598.1 505.9 598.8 504 600C502.1 601.2 500.5 602.5 500.5 603.7C500.5 604.9 502.1 606.4 504 607.3C505.9 608.1 507.8 608.4 512 608.8C516.2 609.2 526.9 607.5 529.5 609.5C532.1 611.5 528.8 616.4 527.5 621C526.2 625.6 523.2 632.2 522 637C520.8 641.8 519.8 645.8 520.5 650C521.2 654.2 523.8 659 526 662C528.2 665 530.3 667 534 668.2C537.7 669.4 543 669.4 548 669C553 668.6 557.2 667.5 563.7 665.6C570.2 663.7 579.1 661.7 587.2 657.8C595.3 653.9 604.4 646.3 612.2 642.2C620 638.1 628.6 634.7 634 633.3C639.4 631.9 641.8 633.3 644.5 634C647.2 634.7 649.2 635.5 650.5 637.5C651.8 639.5 652.9 641.6 652 646C651.1 650.4 648.8 657.9 645 664C641.2 670.1 635.1 677.3 629.4 682.8C623.7 688.2 616 692.8 610.6 696.7C605.2 700.6 600.8 703.2 596.7 706C592.6 708.8 589.5 711.6 586.2 713.4C582.9 715.2 581.1 715.9 577 716.8C572.9 717.6 566.8 717.8 561.7 718.5C556.6 719.2 550.6 719.7 546.5 721C542.4 722.3 539.7 724.5 537.3 726.5C534.9 728.5 533.4 730.4 532.3 733C531.2 735.6 530.8 737.1 530.8 742C530.8 746.9 531 756.2 532.5 762.5C534 768.8 538.6 773.8 539.5 780C540.4 786.2 539.2 793 538 800C536.8 807 534.5 815.3 532 822C529.5 828.7 526.2 834.8 523 840C519.8 845.2 516.3 848.6 513 853C509.7 857.4 506.6 862.6 503 866.5C499.4 870.4 494.3 872.9 491.5 876.5C488.7 880.1 487.3 884.9 486.2 888C485.1 891.1 485 893.8 484.8 895" fill="none" stroke="#fff" stroke-width="4.4" stroke-linejoin="round" stroke-linecap="round"/>
<path d="M29.2 707C41 708 81.5 711.7 100 713.2C118.5 714.7 130.7 715.8 140 716C149.3 716.2 151.7 715.3 156 714.5C160.3 713.7 164.3 711.6 166 711" fill="none" stroke="#fff" stroke-width="4.6" stroke-linejoin="round" stroke-linecap="round"/>
<path d="M738.8 746.9C733.6 746.1 716.9 743.5 707.5 742.2C698.1 740.9 689.3 738.8 682.5 739C675.7 739.2 672.1 743.2 666.9 743.7C661.7 744.2 656.4 743.2 651.2 742.2C646 741.2 641.9 737.9 635.6 737.5C629.4 737.1 619.6 739.7 613.7 740C607.8 740.3 603.5 739.8 600 739.5C596.5 739.2 595.5 739.2 592.5 738.4C589.5 737.6 584.8 736.2 582 734.8C579.2 733.4 577.5 731.9 575.8 730C574.1 728.1 572.8 725.6 572 723.5C571.2 721.4 571.2 718.5 571 717.5" fill="none" stroke="#fff" stroke-width="5" stroke-linejoin="round" stroke-linecap="round"/>
<path d="M738.8 486.5C737.7 488.4 734.2 494.1 732 498C729.8 501.9 729.2 503 725.3 510C721.4 517 714 530 708.7 540C703.4 550 697.6 561.2 693.7 570C689.8 578.8 688.5 586.8 685.5 593C682.5 599.2 678.9 602.7 675.5 607C672.1 611.3 668.3 615.3 665 619C661.7 622.7 657.1 627.3 655.5 629" fill="none" stroke="#fff" stroke-width="4.4" stroke-linejoin="round" stroke-linecap="round"/>
<path d="M742 481.5L733 496" fill="none" stroke="#fff" stroke-width="6.6" stroke-linejoin="round" stroke-linecap="round"/>
<path d="M733 496L723 514" fill="none" stroke="#fff" stroke-width="5.8" stroke-linejoin="round" stroke-linecap="round"/>
<path d="M723 514L713 532" fill="none" stroke="#fff" stroke-width="5.1" stroke-linejoin="round" stroke-linecap="round"/>
<path d="M140 581C142.2 584.8 149.6 594.6 153 604C156.4 613.4 158.9 627.4 160.2 637.3C161.5 647.2 160.7 655.5 160.6 663.3C160.5 671.1 159.6 678 159.8 684C160 690 161.6 696.5 162 699" fill="none" stroke="#fff" stroke-width="6.9" stroke-linejoin="round" stroke-linecap="round"/>
<path d="M195 587C196.7 587.8 201.8 592.2 205 591.5C208.2 590.8 212.5 584.4 214 583" fill="none" stroke="#fff" stroke-width="6.5" stroke-linejoin="round" stroke-linecap="round"/>
<path d="M102.4 462C102.8 463.5 103.6 468.1 104.5 471C105.4 473.9 107.4 478.1 108 479.5" fill="none" stroke="#fff" stroke-width="4.9" stroke-linejoin="round" stroke-linecap="round"/>
<path d="M108 479.5L111.5 486" fill="none" stroke="#fff" stroke-width="6.2" stroke-linejoin="round" stroke-linecap="round"/>
<path d="M111.5 486L115 491.5" fill="none" stroke="#fff" stroke-width="8.4" stroke-linejoin="round" stroke-linecap="round"/>
<path d="M115 491.5L118 495" fill="none" stroke="#fff" stroke-width="10.2" stroke-linejoin="round" stroke-linecap="round"/>
<path d="M118 495L120.5 497.5" fill="none" stroke="#fff" stroke-width="11" stroke-linejoin="round" stroke-linecap="round"/>
<path d="M125.8 503L138.8 516.5" fill="none" stroke="#fff" stroke-width="9.4" stroke-linejoin="round" stroke-linecap="round"/>
<path d="M138.8 516.5L150 527" fill="none" stroke="#fff" stroke-width="8" stroke-linejoin="round" stroke-linecap="round"/>
<path d="M150 527L161.5 538" fill="none" stroke="#fff" stroke-width="6.5" stroke-linejoin="round" stroke-linecap="round"/>
<path d="M161.5 538C164.3 541.9 173.6 554 178.5 561.5C183.4 569 188.9 579.4 191 583" fill="none" stroke="#fff" stroke-width="5.4" stroke-linejoin="round" stroke-linecap="round"/>
<path d="M121 540C122.4 544.5 126.3 560.2 129.5 567C132.7 573.8 138.2 578.7 140 581" fill="none" stroke="#fff" stroke-width="5.4" stroke-linejoin="round" stroke-linecap="round"/>
<path d="M305 427C305.7 429.8 307.1 438.9 309 444C310.9 449.1 314.9 453.2 316.5 457.5C318.1 461.8 318.4 466.2 318.5 470C318.6 473.8 317.2 478.3 317 480" fill="none" stroke="#fff" stroke-width="6" stroke-linejoin="round" stroke-linecap="round"/>
<path d="M309.4 486L315.6 474.5L320.5 470L319.8 480.5L323 485.5L327 487.5L324.5 492.2L316 488.8Z" fill="#fff"/>
<path d="M322 488.5C324 489.2 330.5 491.2 334 492.5C337.5 493.8 339.8 495 343 496.3C346.2 497.6 350.3 499.5 353.5 500.5C356.7 501.5 360.6 502.2 362 502.5" fill="none" stroke="#fff" stroke-width="7.8" stroke-linejoin="round" stroke-linecap="round"/>
<path d="M362 502.5C364.8 503.3 374 505.4 379 507.5C384 509.6 389.8 513.8 392 515" fill="none" stroke="#fff" stroke-width="6.4" stroke-linejoin="round" stroke-linecap="round"/>
<path d="M392 515C394 516.2 397.5 519.8 404 522.5C410.5 525.2 423.5 529.2 431 531C438.5 532.8 446 532.7 449 533" fill="none" stroke="#fff" stroke-width="5.6" stroke-linejoin="round" stroke-linecap="round"/>
<path d="M482 561.3C486.4 560 501.1 556.4 508.3 553.6C515.5 550.8 520.4 547.7 525.2 544.5C530 541.3 533.6 537.8 537 534.5C540.4 531.2 544.1 526.2 545.5 524.5" fill="none" stroke="#fff" stroke-width="5.6" stroke-linejoin="round" stroke-linecap="round"/>
<path d="M503.5 603.7L508 603.4" fill="none" stroke="#fff" stroke-width="4.6" stroke-linejoin="round" stroke-linecap="round"/>
<path d="M529 609C528.8 611 529.2 616.3 528 621C526.8 625.7 523.3 632.5 522 637C520.7 641.5 519.2 643.8 520 648C520.8 652.2 525.8 659.7 527 662" fill="none" stroke="#fff" stroke-width="5.6" stroke-linejoin="round" stroke-linecap="round"/>
<path d="M565 719L571.5 720.5" fill="none" stroke="#fff" stroke-width="5.6" stroke-linejoin="round" stroke-linecap="round"/>
<path d="M630 633.3C631.7 632.8 637 631 640 630.5C643 630 645.5 629.7 648 630C650.5 630.3 653.8 632.1 655 632.5" fill="none" stroke="#fff" stroke-width="6" stroke-linejoin="round" stroke-linecap="round"/>
</g>
<path d="M101.3 455L102.5 465" fill="none" stroke="#fff" stroke-width="3.4" stroke-linecap="round"/>
<path d="M289 362C288.9 363.5 289 368.2 288.6 371C288.2 373.8 286.9 377.2 286.5 378.5" fill="none" stroke="#fff" stroke-width="5.8" stroke-linecap="round"/>
<path d="M286.6 376.5L286.2 378.5" fill="none" stroke="#fff" stroke-width="7.4" stroke-linecap="round"/>
<path d="M538.5 506C539.8 507.8 544.2 514.2 546 517C547.8 519.8 548.5 522 549 523" fill="none" stroke="#fff" stroke-width="3.6" stroke-linecap="round"/>
<path d="M546.5 513.5L548.7 519.5" fill="none" stroke="#fff" stroke-width="7.6" stroke-linecap="round"/>
<path d="M483.3 889C483 889.9 482.2 893 481.5 894.5C480.8 896 480.2 897.3 479 898.2C477.8 899.1 475.7 899.7 474 900C472.3 900.3 470.6 900.3 468.6 900C466.6 899.7 464.2 898.8 462 898.3C459.8 897.8 457.9 896.8 455.6 897.2C453.3 897.6 450.6 899.2 448 900.5C445.4 901.8 443 903.7 440 905C437 906.3 433.5 907.6 430 908.5C426.5 909.4 422.1 911.3 419.2 910.6C416.3 909.9 414.8 905.4 412.6 904.4C410.4 903.4 407.9 903.5 406 904.4C404.1 905.2 402.5 908.1 401 909.5C399.5 910.9 399.5 912.2 397 913C394.5 913.8 389.7 913.6 386 914C382.3 914.4 378.3 914 375 915.3C371.7 916.6 368.7 919.9 366 921.9C363.3 923.9 361.2 926.1 359 927.5C356.8 928.9 356 930.2 352.8 930.5C349.6 930.8 344.4 929.3 340 929C335.6 928.7 330.9 928.1 326.2 928.5C321.5 928.9 316.4 930.4 312 931.5C307.6 932.6 303.7 934.1 299.7 935.2C295.7 936.3 291.7 937.6 288 938.3C284.3 939 281.2 939.4 277.5 939.4C273.8 939.4 269.7 938.7 266 938C262.3 937.3 258.9 936.3 255.4 935.2C251.9 934.1 247.7 932.4 245 931.5C242.3 930.6 240 930.2 239 930" fill="none" stroke="#212121" stroke-width="1.7" stroke-linecap="round"/>
<path d="M321.7 812C321.4 806.3 321.7 800.2 322.5 795C323.3 789.8 324.8 785.7 326.5 781C328.2 776.3 330.4 771.1 332.5 767C334.6 762.9 336.8 759.1 339 756.5C341.2 753.9 342.8 752.7 346 751.5C349.2 750.3 351.2 750.4 358 749.5C364.8 748.6 377.8 747.3 387 746.3C396.2 745.2 404.8 744.2 413 743.2C421.2 742.2 430.3 741.1 436 740.5C441.7 739.9 443.7 739.3 447 739.8C450.3 740.3 453.2 741.1 456 743.5C458.8 745.9 461.9 750.1 463.6 753.9C465.4 757.6 466.2 761.6 466.5 766C466.8 770.4 466.6 775 465.5 780C464.4 785 462.2 790.5 460 796C457.8 801.5 455 807.6 452 813C449 818.4 445.5 823.8 442 828.5C438.5 833.2 435 837.2 431 841C427 844.8 422.5 848.6 418 851C413.5 853.4 409 854.5 404 855.5C399 856.5 393.7 856.8 388 856.8C382.3 856.8 375.7 856.1 370 855.3C364.3 854.5 359 853.3 354 851.8C349 850.3 343.9 848.3 340 846.5C336.1 844.7 333.2 843.9 330.5 841C327.8 838.1 325.5 833.8 324 829C322.5 824.2 321.9 817.7 321.7 812Z" fill="#F9DAA0" stroke="#212121" stroke-width="1.7"/>
<ellipse cx="371" cy="818.3" rx="16.3" ry="13.8" transform="rotate(-6 371 818.3)" fill="#F3BB5F" stroke="#212121" stroke-width="1.7"/>
<path d="M199.8 306.6Q206.7 300.1 216.2 300" fill="none" stroke="#272b3a" stroke-width="13.6" stroke-linecap="round"/><path d="M199.8 306.6Q206.7 300.1 216.2 300" fill="none" stroke="#8393C3" stroke-width="10" stroke-linecap="round"/>
<path d="M238.9 303.2Q247.7 306.6 252 315" fill="none" stroke="#272b3a" stroke-width="14.2" stroke-linecap="round"/><path d="M238.9 303.2Q247.7 306.6 252 315" fill="none" stroke="#8393C3" stroke-width="10.6" stroke-linecap="round"/>
<path d="M158.6 321.2Q163.7 314.3 172.2 313.3" fill="none" stroke="#272b3a" stroke-width="13.6" stroke-linecap="round"/><path d="M158.6 321.2Q163.7 314.3 172.2 313.3" fill="none" stroke="#8393C3" stroke-width="10" stroke-linecap="round"/>
<path d="M121.8 341.9Q124.9 331.5 133.6 325.1" fill="none" stroke="#272b3a" stroke-width="14.2" stroke-linecap="round"/><path d="M121.8 341.9Q124.9 331.5 133.6 325.1" fill="none" stroke="#8393C3" stroke-width="10.6" stroke-linecap="round"/>
<path d="M116.4 387.9Q117.1 377 124.1 368.8" fill="none" stroke="#272b3a" stroke-width="14.2" stroke-linecap="round"/><path d="M116.4 387.9Q117.1 377 124.1 368.8" fill="none" stroke="#8393C3" stroke-width="10.6" stroke-linecap="round"/>
<path d="M189.2 505.9Q197.3 513.8 199.3 524.9" fill="none" stroke="#272b3a" stroke-width="14.2" stroke-linecap="round"/><path d="M189.2 505.9Q197.3 513.8 199.3 524.9" fill="none" stroke="#8393C3" stroke-width="10.6" stroke-linecap="round"/>
<path d="M390.3 202.9Q398.8 194.7 410.5 192.6" fill="none" stroke="#272b3a" stroke-width="14.2" stroke-linecap="round"/><path d="M390.3 202.9Q398.8 194.7 410.5 192.6" fill="none" stroke="#8393C3" stroke-width="10.6" stroke-linecap="round"/>
<path d="M347.1 231.7Q352 219.9 362.2 212.3" fill="none" stroke="#272b3a" stroke-width="14.2" stroke-linecap="round"/><path d="M347.1 231.7Q352 219.9 362.2 212.3" fill="none" stroke="#8393C3" stroke-width="10.6" stroke-linecap="round"/>
<path d="M334.9 282.3Q333.5 270.6 338.8 260" fill="none" stroke="#272b3a" stroke-width="14.2" stroke-linecap="round"/><path d="M334.9 282.3Q333.5 270.6 338.8 260" fill="none" stroke="#8393C3" stroke-width="10.6" stroke-linecap="round"/>
<path d="M324.6 345.5Q326.7 332.9 335 323.2" fill="none" stroke="#272b3a" stroke-width="14.2" stroke-linecap="round"/><path d="M324.6 345.5Q326.7 332.9 335 323.2" fill="none" stroke="#8393C3" stroke-width="10.6" stroke-linecap="round"/>
<path d="M459.8 196.1Q471.3 198.8 479.4 207.4" fill="none" stroke="#272b3a" stroke-width="14.2" stroke-linecap="round"/><path d="M459.8 196.1Q471.3 198.8 479.4 207.4" fill="none" stroke="#8393C3" stroke-width="10.6" stroke-linecap="round"/>
<path d="M500 232.4Q509.2 240.6 512.5 252.5" fill="none" stroke="#272b3a" stroke-width="14.2" stroke-linecap="round"/><path d="M500 232.4Q509.2 240.6 512.5 252.5" fill="none" stroke="#8393C3" stroke-width="10.6" stroke-linecap="round"/>
<path d="M518.7 278Q524 288.6 522.6 300.3" fill="none" stroke="#272b3a" stroke-width="14.2" stroke-linecap="round"/><path d="M518.7 278Q524 288.6 522.6 300.3" fill="none" stroke="#8393C3" stroke-width="10.6" stroke-linecap="round"/>
<path d="M510.6 397.8Q520.5 390.6 525.1 379.2" fill="none" stroke="#272b3a" stroke-width="14.2" stroke-linecap="round"/><path d="M510.6 397.8Q520.5 390.6 525.1 379.2" fill="none" stroke="#8393C3" stroke-width="10.6" stroke-linecap="round"/>
<path d="M607.3 395.6Q613.4 386 623.8 381.7" fill="none" stroke="#272b3a" stroke-width="14.2" stroke-linecap="round"/><path d="M607.3 395.6Q613.4 386 623.8 381.7" fill="none" stroke="#8393C3" stroke-width="10.6" stroke-linecap="round"/>
<path d="M647.2 373.5Q658.6 370.5 669.8 374.2" fill="none" stroke="#272b3a" stroke-width="14.2" stroke-linecap="round"/><path d="M647.2 373.5Q658.6 370.5 669.8 374.2" fill="none" stroke="#8393C3" stroke-width="10.6" stroke-linecap="round"/>
<path d="M696.8 367.6Q708.3 370.3 716.4 378.9" fill="none" stroke="#272b3a" stroke-width="14.2" stroke-linecap="round"/><path d="M696.8 367.6Q708.3 370.3 716.4 378.9" fill="none" stroke="#8393C3" stroke-width="10.6" stroke-linecap="round"/>
<path d="M142.4 545Q143.9 554.6 151 561.3" fill="none" stroke="#272b3a" stroke-width="16.2" stroke-linecap="round"/><path d="M142.4 545Q143.9 554.6 151 561.3" fill="none" stroke="#828FC5" stroke-width="12.8" stroke-linecap="round"/>
<path d="M283.6 412.3Q282.7 419.8 286.1 426.5" fill="none" stroke="#272b3a" stroke-width="19.2" stroke-linecap="round"/><path d="M283.6 412.3Q282.7 419.8 286.1 426.5" fill="none" stroke="#828FC5" stroke-width="15.8" stroke-linecap="round"/>
<path d="M293 459.2Q291.3 469.1 293.6 478.7" fill="none" stroke="#272b3a" stroke-width="17.2" stroke-linecap="round"/><path d="M293 459.2Q291.3 469.1 293.6 478.7" fill="none" stroke="#828FC5" stroke-width="13.8" stroke-linecap="round"/>
<rect x="531" y="545.8" width="19" height="10.5" rx="5.2" transform="rotate(-45 540.5 551)" fill="#828FC5" stroke="#272b3a" stroke-width="1.7"/>
<rect x="598.5" y="659.5" width="31" height="14" rx="7" transform="rotate(-30 614 666.5)" fill="#828FC5" stroke="#272b3a" stroke-width="1.7"/>
<rect x="583.5" y="677" width="13" height="9" rx="4.5" transform="rotate(-40 590 681.5)" fill="#828FC5" stroke="#272b3a" stroke-width="1.7"/>
<path d="M182.2 601.5Q185.4 600.9 187.6 603.3" fill="none" stroke="#232e3a" stroke-width="15.6" stroke-linecap="round"/><path d="M182.2 601.5Q185.4 600.9 187.6 603.3" fill="none" stroke="#72A9D0" stroke-width="12" stroke-linecap="round"/>
<rect x="290.8" y="499" width="18.5" height="18" rx="9" transform="rotate(0 300 508)" fill="#72A9D0" stroke="#232e3a" stroke-width="1.8"/>
<path d="M317.2 529.7Q326.1 528.5 334.7 531.3" fill="none" stroke="#232e3a" stroke-width="16.8" stroke-linecap="round"/><path d="M317.2 529.7Q326.1 528.5 334.7 531.3" fill="none" stroke="#72A9D0" stroke-width="13.2" stroke-linecap="round"/>
<path d="M404.7 555.8Q411.2 552.2 418.5 553.4" fill="none" stroke="#232e3a" stroke-width="15.8" stroke-linecap="round"/><path d="M404.7 555.8Q411.2 552.2 418.5 553.4" fill="none" stroke="#72A9D0" stroke-width="12.2" stroke-linecap="round"/>
<path d="M357.3 617Q364.9 624.4 375.4 625.4" fill="none" stroke="#232e3a" stroke-width="16.8" stroke-linecap="round"/><path d="M357.3 617Q364.9 624.4 375.4 625.4" fill="none" stroke="#72A9D0" stroke-width="13.2" stroke-linecap="round"/>
<path d="M402.5 627.6Q412.5 625.2 422.5 627.6" fill="none" stroke="#232e3a" stroke-width="16.8" stroke-linecap="round"/><path d="M402.5 627.6Q412.5 625.2 422.5 627.6" fill="none" stroke="#72A9D0" stroke-width="13.2" stroke-linecap="round"/>
<path d="M450.5 619.6Q460 618.7 466.8 612" fill="none" stroke="#232e3a" stroke-width="16.8" stroke-linecap="round"/><path d="M450.5 619.6Q460 618.7 466.8 612" fill="none" stroke="#72A9D0" stroke-width="13.2" stroke-linecap="round"/>
<rect x="478.8" y="579.5" width="19.5" height="16" rx="8" transform="rotate(-20 488.5 587.5)" fill="#72A9D0" stroke="#232e3a" stroke-width="1.8"/>
<path d="M481.6 636.4Q490.9 640.6 495.1 649.9" fill="none" stroke="#232e3a" stroke-width="16.8" stroke-linecap="round"/><path d="M481.6 636.4Q490.9 640.6 495.1 649.9" fill="none" stroke="#72A9D0" stroke-width="13.2" stroke-linecap="round"/>
<path d="M507.6 681.7Q516.6 687.3 519.9 697.4" fill="none" stroke="#232e3a" stroke-width="15.8" stroke-linecap="round"/><path d="M507.6 681.7Q516.6 687.3 519.9 697.4" fill="none" stroke="#72A9D0" stroke-width="12.2" stroke-linecap="round"/>
<path d="M559.3 694.3Q563.6 691.1 569 691.7" fill="none" stroke="#232e3a" stroke-width="13.8" stroke-linecap="round"/><path d="M559.3 694.3Q563.6 691.1 569 691.7" fill="none" stroke="#72A9D0" stroke-width="10.2" stroke-linecap="round"/>
<path d="M318.6 571.4Q325.5 575.3 327.6 582.9" fill="none" stroke="#262c24" stroke-width="18.2" stroke-linecap="round"/><path d="M318.6 571.4Q325.5 575.3 327.6 582.9" fill="none" stroke="#89B377" stroke-width="14.8" stroke-linecap="round"/>
<ellipse cx="172.5" cy="629" rx="4.8" ry="8.2" transform="rotate(15 172.5 629)" fill="#A3D2DC" stroke="#27363c" stroke-width="1.5"/>
<ellipse cx="186.5" cy="663.3" rx="7.3" ry="9.3" transform="rotate(0 186.5 663.3)" fill="#A3D2DC" stroke="#27363c" stroke-width="1.5"/>
<ellipse cx="175.7" cy="693" rx="4" ry="4" transform="rotate(0 175.7 693)" fill="#A3D2DC" stroke="#27363c" stroke-width="1.5"/>
<ellipse cx="194" cy="733" rx="5" ry="5" transform="rotate(0 194 733)" fill="#A3D2DC" stroke="#27363c" stroke-width="1.5"/>
<ellipse cx="188" cy="771" rx="6" ry="6" transform="rotate(0 188 771)" fill="#A3D2DC" stroke="#27363c" stroke-width="1.5"/>
<ellipse cx="178" cy="822" rx="5.5" ry="5.5" transform="rotate(0 178 822)" fill="#A3D2DC" stroke="#27363c" stroke-width="1.5"/>
<ellipse cx="209" cy="866.5" rx="9.5" ry="12" transform="rotate(-15 209 866.5)" fill="#A3D2DC" stroke="#27363c" stroke-width="1.5"/>
<ellipse cx="321.3" cy="630.6" rx="5" ry="5" transform="rotate(0 321.3 630.6)" fill="#A3D2DC" stroke="#27363c" stroke-width="1.5"/>
<ellipse cx="305.6" cy="675" rx="7.3" ry="5.2" transform="rotate(-30 305.6 675)" fill="#A3D2DC" stroke="#27363c" stroke-width="1.5"/>
<ellipse cx="276.5" cy="654" rx="4.6" ry="4.6" transform="rotate(0 276.5 654)" fill="#D2D28C" stroke="#2f3128" stroke-width="1.5"/>
<path d="M496 836C496.5 834.4 498.4 831.4 500 829.5C501.6 827.6 503.8 825.3 505.5 824.5C507.2 823.7 508.9 823.6 510 824.5C511.1 825.4 511.6 827.9 511.8 830C512 832.1 512.1 835.2 511.5 837C510.9 838.8 509.8 840 508 840.5C506.2 841 502.8 840.5 501 840.3C499.2 840 497.8 839.7 497 839C496.2 838.3 495.5 837.6 496 836Z" fill="#A3D2DC" stroke="#27363c" stroke-width="1.5"/>
<path d="M296 656Q301.7 650 310 649.4" fill="none" stroke="#332a2a" stroke-width="14.1" stroke-linecap="round"/><path d="M296 656Q301.7 650 310 649.4" fill="none" stroke="#F4B8B0" stroke-width="10.9" stroke-linecap="round"/>
<path d="M277.9 719.4Q284.2 707.6 284.6 694.2" fill="none" stroke="#332a2a" stroke-width="16.6" stroke-linecap="round"/><path d="M277.9 719.4Q284.2 707.6 284.6 694.2" fill="none" stroke="#F4B8B0" stroke-width="13.4" stroke-linecap="round"/>
<path d="M346.1 874.8Q357 870.8 367.1 876.7" fill="none" stroke="#332a2a" stroke-width="13.6" stroke-linecap="round"/><path d="M346.1 874.8Q357 870.8 367.1 876.7" fill="none" stroke="#F4B8B0" stroke-width="10.4" stroke-linecap="round"/>
<rect x="458.5" y="851.5" width="28" height="13" rx="6.5" transform="rotate(-70 472.5 858)" fill="#F4B8B0" stroke="#332a2a" stroke-width="1.6"/>
<path d="M242.7 570C246 572.5 255.8 581.1 262.5 584.8C269.2 588.5 276.4 590.5 283 592C289.6 593.5 298.8 593.2 302 593.5" fill="none" stroke="#2f3128" stroke-width="12.1" stroke-linecap="round" stroke-linejoin="round"/><path d="M242.7 570C246 572.5 255.8 581.1 262.5 584.8C269.2 588.5 276.4 590.5 283 592C289.6 593.5 298.8 593.2 302 593.5" fill="none" stroke="#D2D28C" stroke-width="8.7" stroke-linecap="round" stroke-linejoin="round"/>
<path d="M230 579.6C233 582 242.6 590.4 248 594C253.4 597.6 258.2 599.8 262.5 601.5C266.8 603.2 272.1 603.6 274 604" fill="none" stroke="#2f3128" stroke-width="12.1" stroke-linecap="round" stroke-linejoin="round"/><path d="M230 579.6C233 582 242.6 590.4 248 594C253.4 597.6 258.2 599.8 262.5 601.5C266.8 603.2 272.1 603.6 274 604" fill="none" stroke="#D2D28C" stroke-width="8.7" stroke-linecap="round" stroke-linejoin="round"/>
<path d="M288.5 609.4L305 608" fill="none" stroke="#2f3128" stroke-width="12.1" stroke-linecap="round" stroke-linejoin="round"/><path d="M288.5 609.4L305 608" fill="none" stroke="#D2D28C" stroke-width="8.7" stroke-linecap="round" stroke-linejoin="round"/>
<path d="M228 595.8C231.3 598.3 240.9 606.8 248 610.8C255.1 614.8 263.7 618 270.8 620C277.9 622 287.3 622.5 290.6 623" fill="none" stroke="#2f3128" stroke-width="12.1" stroke-linecap="round" stroke-linejoin="round"/><path d="M228 595.8C231.3 598.3 240.9 606.8 248 610.8C255.1 614.8 263.7 618 270.8 620C277.9 622 287.3 622.5 290.6 623" fill="none" stroke="#D2D28C" stroke-width="8.7" stroke-linecap="round" stroke-linejoin="round"/>
<path d="M227 616C229.8 618.1 238.1 625.4 243.7 628.5C249.3 631.6 255.2 633.5 260.4 634.8C265.6 636 272.6 635.8 275 636" fill="none" stroke="#2f3128" stroke-width="12.1" stroke-linecap="round" stroke-linejoin="round"/><path d="M227 616C229.8 618.1 238.1 625.4 243.7 628.5C249.3 631.6 255.2 633.5 260.4 634.8C265.6 636 272.6 635.8 275 636" fill="none" stroke="#D2D28C" stroke-width="8.7" stroke-linecap="round" stroke-linejoin="round"/>
<path d="M238.5 644C240.4 644.9 246.3 648.5 250 649.4C253.7 650.3 258.7 649.4 260.4 649.4" fill="none" stroke="#2f3128" stroke-width="12.1" stroke-linecap="round" stroke-linejoin="round"/><path d="M238.5 644C240.4 644.9 246.3 648.5 250 649.4C253.7 650.3 258.7 649.4 260.4 649.4" fill="none" stroke="#D2D28C" stroke-width="8.7" stroke-linecap="round" stroke-linejoin="round"/>
<circle cx="263.6" cy="766" r="2" fill="#1a1a1a"/><circle cx="274.9" cy="770.8" r="2" fill="#1a1a1a"/><circle cx="254.4" cy="784.8" r="2" fill="#1a1a1a"/><circle cx="270.2" cy="789.9" r="2" fill="#1a1a1a"/><circle cx="250" cy="807.4" r="2" fill="#1a1a1a"/><circle cx="266.6" cy="808.2" r="2" fill="#1a1a1a"/><circle cx="250.9" cy="831.3" r="2" fill="#1a1a1a"/><circle cx="267.4" cy="828.9" r="2" fill="#1a1a1a"/><circle cx="258" cy="852.9" r="2" fill="#1a1a1a"/><circle cx="272.7" cy="845.2" r="2" fill="#1a1a1a"/><circle cx="273" cy="872.5" r="2" fill="#1a1a1a"/><circle cx="283.9" cy="859.9" r="2" fill="#1a1a1a"/><circle cx="293.6" cy="884.6" r="2" fill="#1a1a1a"/><circle cx="298" cy="868.6" r="2" fill="#1a1a1a"/><path d="M268.9 760.7L268.5 761.2L268.1 761.7L267.6 762.3L267 763L266.4 763.7L265.7 764.5L265 765.4L264.3 766.3L263.6 767.3L262.9 768.3L262.2 769.3L261.4 770.4L260.7 771.5L260.1 772.6L259.4 773.8L258.8 775L258.2 776.1L257.7 777.3L257.3 778.6L256.9 779.7L256.5 780.8L256.2 781.8L255.8 782.9L255.5 784L255.1 785.1L254.8 786.2L254.4 787.3L254.1 788.5L253.7 789.6L253.4 790.8L253.1 792.1L252.8 793.3L252.5 794.6L252.2 795.9L251.9 797.3L251.7 798.6L251.5 800.1L251.3 801.5L251.1 803L251 804.5L250.9 805.9L250.8 807.5L250.8 809L250.7 810.6L250.7 812.2L250.7 813.9L250.7 815.6L250.7 817.3L250.7 819L250.8 820.8L250.9 822.5L251 824.3L251.1 826L251.3 827.7L251.5 829.5L251.7 831.2L252 832.9L252.3 834.6L252.6 836.2L253 837.8L253.5 839.4L253.9 841L254.4 842.5L254.9 844L255.5 845.5L256.1 846.9L256.7 848.4L257.4 849.8L258 851.2L258.7 852.5L259.5 853.9L260.2 855.2L261 856.4L261.7 857.7L262.5 858.9L263.3 860.1L264.1 861.3L264.9 862.4L265.8 863.5L266.6 864.7L267.5 865.8L268.5 866.9L269.5 867.9L270.5 869L271.5 870L272.5 870.9L273.5 871.9L274.6 872.8L275.7 873.6L276.7 874.4L277.8 875.2L278.8 876L279.9 876.8L280.9 877.5L282 878.1L283 878.8L284 879.4L285 880L285.9 880.5L286.9 881.1L288 881.7L289.2 882.2L290.4 882.7L291.6 883.1L292.7 883.5L293.8 883.8L294.9 884.1L296 884.3L297 884.5L298.1 884.5L299.1 884.4L300 884.2L300.9 883.9L301.7 883.6L302.5 883.3L303.2 882.9L303.8 882.6L304.4 882.3L304.8 882L305.2 881.8L307 881.7L308.5 880.8L309.3 879.3L309.2 877.5L308.3 876L306.8 875.2L306.3 874.8L305.8 874.3L305.2 873.8L304.7 873.3L304 872.8L303.4 872.3L302.7 871.7L302.1 871.2L301.4 870.8L300.7 870.4L300 870L299.3 869.7L298.5 869.6L297.8 869.4L297.1 869.2L296.5 868.9L295.8 868.7L295.2 868.5L294.6 868.2L294.1 867.9L293.4 867.5L292.6 867L291.8 866.6L290.9 866.1L290.1 865.5L289.3 865L288.4 864.4L287.6 863.8L286.7 863.2L285.9 862.6L285 861.9L284.2 861.2L283.4 860.5L282.6 859.8L281.8 859.1L281.1 858.4L280.4 857.6L279.7 856.9L279 856.1L278.4 855.3L277.7 854.5L277.1 853.6L276.4 852.7L275.7 851.7L275.1 850.7L274.4 849.7L273.8 848.7L273.2 847.7L272.6 846.6L272 845.5L271.5 844.5L270.9 843.3L270.4 842.2L269.9 841.1L269.5 840L269 838.8L268.6 837.7L268.2 836.5L267.9 835.3L267.6 834.2L267.3 833L267 831.7L266.8 830.4L266.6 829L266.4 827.6L266.2 826.2L266.1 824.7L266 823.2L265.9 821.7L265.8 820.1L265.7 818.6L265.7 817L265.7 815.5L265.7 814L265.7 812.5L265.7 811L265.8 809.6L265.8 808.2L265.9 806.8L266 805.5L266.1 804.4L266.2 803.2L266.3 802.1L266.5 801L266.7 800L266.9 798.9L267.1 797.9L267.3 796.8L267.6 795.8L267.9 794.8L268.2 793.8L268.5 792.7L268.8 791.7L269.1 790.7L269.4 789.6L269.8 788.6L270.1 787.5L270.5 786.4L270.8 785.4L271.1 784.3L271.4 783.3L271.7 782.2L272 781.1L272.3 780L272.6 778.9L272.9 777.7L273.1 776.5L273.4 775.3L273.6 774.1L273.8 772.9L274 771.7L274.2 770.5L274.3 769.4L274.5 768.3L274.6 767.3L274.7 766.3L274.9 765.5L275 764.6L275.1 763.9L275.1 763.3L275.3 761.5L274.7 759.9L273.3 758.9L271.5 758.7L269.9 759.3Z" fill="#C9B3D0" stroke="#2a2230" stroke-width="1.4" stroke-linejoin="round"/>
<circle cx="321.7" cy="743.4" r="2" fill="#1a1a1a"/><circle cx="331.3" cy="751.5" r="2" fill="#1a1a1a"/><circle cx="307.6" cy="758.4" r="2" fill="#1a1a1a"/><circle cx="321.1" cy="767.1" r="2" fill="#1a1a1a"/><circle cx="298.1" cy="778.5" r="2" fill="#1a1a1a"/><circle cx="313.1" cy="784.4" r="2" fill="#1a1a1a"/><circle cx="291.7" cy="799.3" r="2" fill="#1a1a1a"/><circle cx="307.6" cy="802.2" r="2" fill="#1a1a1a"/><circle cx="290.4" cy="821" r="2" fill="#1a1a1a"/><circle cx="306.5" cy="820.2" r="2" fill="#1a1a1a"/><circle cx="295.1" cy="841.9" r="2" fill="#1a1a1a"/><circle cx="310.4" cy="836.8" r="2" fill="#1a1a1a"/><path d="M329.5 738.9L329.1 739.1L328.7 739.4L328.2 739.7L327.7 740.1L327.1 740.5L326.5 740.9L325.9 741.3L325.2 741.8L324.5 742.3L323.8 742.8L323 743.3L322.3 743.9L321.5 744.5L320.8 745.1L320 745.7L319.3 746.3L318.6 746.9L317.9 747.5L317.2 748.2L316.6 748.8L316 749.3L315.5 749.9L315 750.4L314.5 750.9L314 751.5L313.4 752L312.9 752.7L312.4 753.3L311.8 754L311.2 754.7L310.6 755.4L310.1 756.2L309.5 757.1L308.8 757.9L308.2 758.9L307.6 759.8L307 760.9L306.4 762L305.8 763.1L305.2 764.3L304.6 765.5L304 766.8L303.4 768.1L302.8 769.5L302.1 770.9L301.5 772.4L300.8 774L300.1 775.6L299.5 777.2L298.8 778.8L298.2 780.4L297.6 782.1L297 783.7L296.4 785.4L295.8 787L295.3 788.7L294.8 790.3L294.3 791.9L293.8 793.4L293.5 795L293.1 796.5L292.8 798L292.5 799.4L292.3 800.9L292 802.3L291.8 803.8L291.7 805.2L291.5 806.6L291.4 808L291.3 809.4L291.2 810.8L291.1 812.1L291.1 813.4L291.1 814.7L291.1 816L291.1 817.3L291.1 818.5L291.2 819.8L291.2 820.9L291.3 822.2L291.4 823.4L291.5 824.7L291.7 825.9L291.8 827.2L292.1 828.4L292.3 829.5L292.6 830.7L292.8 831.8L293.1 832.9L293.4 833.9L293.7 834.9L294 835.9L294.3 836.8L294.6 837.7L294.9 838.6L295.2 839.4L295.4 840.2L295.7 840.9L295.9 841.6L296.1 842.3L296.4 843L296.8 843.8L297.2 844.5L297.6 845.1L298.1 845.7L298.6 846.2L299.1 846.7L299.6 847.1L300.1 847.5L300.6 847.9L301 848.2L301.5 848.4L301.9 848.7L302.3 848.9L302.7 849L303.1 849.2L303.4 849.3L303.7 849.4L303.9 849.4L304.1 849.5L305.3 850.8L306.9 851.3L308.5 850.9L309.8 849.7L310.3 848.1L309.9 846.5L309.9 846.1L309.9 845.8L309.9 845.4L309.9 845L309.9 844.6L309.9 844.1L309.9 843.7L309.9 843.3L310 842.9L310 842.4L310.1 842L310.1 841.5L310.1 841.1L310.2 840.6L310.2 840.1L310.2 839.7L310.2 839.2L310.1 838.7L310 838.3L309.9 837.7L309.7 837L309.4 836.3L309.2 835.5L308.9 834.8L308.6 834L308.4 833.2L308.1 832.4L307.8 831.6L307.6 830.8L307.3 829.9L307.1 829.1L306.9 828.2L306.7 827.4L306.5 826.5L306.3 825.6L306.1 824.7L306 823.9L305.9 823L305.8 822.1L305.7 821.2L305.7 820.3L305.6 819.2L305.6 818.2L305.6 817.1L305.6 816L305.6 814.9L305.6 813.8L305.6 812.7L305.7 811.5L305.8 810.4L305.8 809.2L305.9 808L306.1 806.8L306.2 805.7L306.4 804.5L306.6 803.3L306.8 802.1L307 800.8L307.3 799.6L307.5 798.4L307.9 797.2L308.2 795.9L308.6 794.5L309.1 793.1L309.5 791.7L310.1 790.2L310.6 788.7L311.2 787.2L311.7 785.6L312.3 784.1L312.9 782.6L313.5 781.1L314.2 779.6L314.8 778.2L315.4 776.8L316 775.4L316.6 774.1L317.1 772.9L317.7 771.8L318.2 770.7L318.7 769.8L319.1 768.9L319.6 768.1L320 767.4L320.5 766.7L320.9 766L321.3 765.4L321.7 764.8L322.2 764.2L322.6 763.7L323.1 763.1L323.5 762.5L324 762L324.5 761.4L325 760.7L325.4 760.1L325.9 759.4L326.4 758.7L326.9 758L327.4 757.2L327.8 756.5L328.2 755.7L328.6 755L329.1 754.2L329.5 753.4L329.9 752.6L330.3 751.8L330.7 751L331.1 750.2L331.5 749.4L331.9 748.6L332.3 747.8L332.6 747.1L333 746.4L333.3 745.7L333.6 745.1L333.8 744.5L334.1 744L334.3 743.5L334.5 743.1L335.2 741.6L335.1 739.9L334.1 738.5L332.6 737.8L330.9 737.9Z" fill="#C9B3D0" stroke="#2a2230" stroke-width="1.4" stroke-linejoin="round"/>
<circle cx="412.3" cy="878.5" r="2" fill="#1a1a1a"/><circle cx="408.2" cy="865" r="2" fill="#1a1a1a"/><circle cx="422.9" cy="875.2" r="2" fill="#1a1a1a"/><circle cx="418.5" cy="861.8" r="2" fill="#1a1a1a"/><circle cx="432.9" cy="871.4" r="2" fill="#1a1a1a"/><circle cx="427.5" cy="858.4" r="2" fill="#1a1a1a"/><circle cx="442.9" cy="866.5" r="2" fill="#1a1a1a"/><circle cx="437.5" cy="854.5" r="2" fill="#1a1a1a"/><path d="M405.6 877.1L406.3 877.3L407.1 877.5L407.9 877.7L408.9 877.9L409.9 878L411 878L412 877.8L413.1 877.4L414.3 877.1L415.4 876.7L416.6 876.4L417.8 876L419 875.6L420.3 875.2L421.5 874.8L422.7 874.4L423.8 874L425 873.6L426.1 873.2L427.2 872.9L428.2 872.5L429.3 872L430.4 871.6L431.5 871.1L432.6 870.7L433.7 870.2L434.8 869.7L435.9 869.2L437 868.8L438.1 868.3L439.1 867.8L440.1 867.4L441 866.9L441.9 866.4L442.6 865.7L443.2 865L443.8 864.3L444.3 863.6L444.7 863L445 862.4L446.5 861.2L447.2 859.4L446.9 857.5L445.7 856L443.9 855.3L442 855.6L441.3 855.5L440.6 855.4L439.7 855.3L438.8 855.2L437.8 855.2L436.9 855.3L435.9 855.6L435 856L434 856.4L433 856.9L432 857.3L430.9 857.8L429.9 858.3L428.8 858.7L427.8 859.2L426.7 859.6L425.7 860L424.7 860.4L423.7 860.8L422.8 861.1L421.9 861.5L420.9 861.8L419.8 862.2L418.7 862.6L417.6 862.9L416.4 863.3L415.3 863.7L414.1 864.1L412.9 864.4L411.8 864.8L410.6 865.1L409.5 865.5L408.4 865.8L407.4 866.2L406.5 866.7L405.7 867.4L405 868.1L404.4 868.7L403.8 869.4L403.4 869.9L401.7 871L400.8 872.7L400.9 874.6L402 876.3L403.7 877.2Z" fill="#C9B3D0" stroke="#2a2230" stroke-width="1.4" stroke-linejoin="round"/>
<circle cx="483.5" cy="721.6" r="2" fill="#1a1a1a"/><circle cx="494.4" cy="721" r="2" fill="#1a1a1a"/><circle cx="483.5" cy="739.8" r="2" fill="#1a1a1a"/><circle cx="495.6" cy="739.9" r="2" fill="#1a1a1a"/><circle cx="482.6" cy="757.6" r="2" fill="#1a1a1a"/><circle cx="494.6" cy="758.7" r="2" fill="#1a1a1a"/><circle cx="479.7" cy="775.9" r="2" fill="#1a1a1a"/><circle cx="491.5" cy="778.6" r="2" fill="#1a1a1a"/><circle cx="474.5" cy="792.7" r="2" fill="#1a1a1a"/><circle cx="485.7" cy="797.1" r="2" fill="#1a1a1a"/><circle cx="466.4" cy="808.7" r="2" fill="#1a1a1a"/><circle cx="476.7" cy="815.1" r="2" fill="#1a1a1a"/><path d="M486.1 713.1L485.9 713.9L485.6 714.9L485.4 716L485.1 717.3L484.8 718.6L484.5 720L484.3 721.5L484.1 723.1L484 724.7L484 726.4L484 728.1L484.1 729.8L484.2 731.5L484.2 733.2L484.3 734.9L484.3 736.6L484.3 738.2L484.3 739.8L484.3 741.4L484.3 742.8L484.2 744.3L484.1 745.8L484.1 747.3L484 748.8L483.9 750.3L483.8 751.8L483.7 753.2L483.6 754.7L483.5 756.2L483.4 757.7L483.2 759.2L483.1 760.6L482.9 762.1L482.7 763.5L482.5 765L482.3 766.4L482.1 767.8L481.9 769.2L481.6 770.6L481.4 772L481.1 773.3L480.8 774.7L480.5 776L480.1 777.4L479.8 778.7L479.4 780.1L479.1 781.4L478.7 782.7L478.3 784L477.9 785.4L477.5 786.7L477.1 787.9L476.6 789.2L476.2 790.5L475.7 791.8L475.2 793L474.7 794.2L474.2 795.5L473.7 796.7L473.2 797.9L472.7 799L472.1 800.2L471.5 801.5L470.8 802.7L470.1 804L469.3 805.3L468.6 806.6L467.8 807.9L467 809.2L466.3 810.4L465.5 811.6L464.8 812.9L464.2 814.1L463.8 815.4L463.4 816.6L463.1 817.8L462.9 819L462.7 820L462.6 821L462.5 821.8L462.1 823L462.4 824.1L463.3 825L464.5 825.4L465.6 825.1L466.5 824.2L467.2 823.8L467.9 823.3L468.8 822.7L469.7 822L470.7 821.3L471.7 820.5L472.6 819.5L473.5 818.4L474.4 817.2L475.2 816L476 814.6L476.8 813.3L477.6 811.9L478.4 810.5L479.2 809.1L480 807.7L480.8 806.3L481.5 804.9L482.2 803.5L482.8 802.1L483.4 800.8L483.9 799.5L484.5 798.1L485 796.8L485.5 795.4L486 794.1L486.5 792.7L487 791.3L487.5 789.9L487.9 788.5L488.4 787.1L488.8 785.7L489.2 784.3L489.6 782.8L490 781.4L490.3 779.9L490.7 778.5L491 777L491.3 775.5L491.6 774L491.9 772.5L492.2 771L492.5 769.5L492.7 768L492.9 766.4L493.1 764.9L493.3 763.3L493.5 761.8L493.7 760.2L493.8 758.7L494 757.1L494.1 755.5L494.2 754L494.3 752.4L494.4 750.9L494.5 749.3L494.6 747.8L494.6 746.2L494.7 744.7L494.7 743.2L494.8 741.6L494.8 739.9L494.8 738.2L494.8 736.4L494.8 734.7L494.7 732.9L494.7 731.1L494.6 729.3L494.5 727.6L494.4 725.9L494.2 724.2L494 722.6L493.6 721L493.2 719.6L492.8 718.2L492.3 716.9L491.9 715.7L491.5 714.6L491.2 713.7L490.9 712.9L490.5 711.7L489.6 710.9L488.4 710.6L487.2 711L486.4 711.9Z" fill="#C9B3D0" stroke="#2a2230" stroke-width="1.4" stroke-linejoin="round"/>
<path d="M478.3 449.9C481.2 449.9 484.5 450.6 486.9 452.7C489.4 454.8 492.5 459 493.1 462.6C493.6 466.2 491.5 470.9 490 474.4C488.5 477.9 484.9 480.6 484.1 483.7C483.3 486.8 485.8 489.1 485 492.8C484.1 496.6 481.5 502.3 478.9 506.2C476.3 510.2 473.2 514.1 469.5 516.5C465.9 518.9 460.9 521 456.8 520.7C452.8 520.5 447.7 517.9 445.1 514.9C442.6 512 441.1 506.7 441.6 503C442.1 499.4 445.7 496.3 448.1 493.1C450.4 489.9 454 487.3 455.6 483.7C457.2 480 456.7 475.1 457.8 471.2C458.9 467.3 460 463.4 462 460.3C463.9 457.2 466.8 454.3 469.5 452.6C472.3 450.9 475.4 449.9 478.3 449.9Z" fill="#A3D1D9" stroke="#212121" stroke-width="7.2"/>
<path d="M478.3 449.9C481.2 449.9 484.5 450.6 486.9 452.7C489.4 454.8 492.5 459 493.1 462.6C493.6 466.2 491.5 470.9 490 474.4C488.5 477.9 484.9 480.6 484.1 483.7C483.3 486.8 485.8 489.1 485 492.8C484.1 496.6 481.5 502.3 478.9 506.2C476.3 510.2 473.2 514.1 469.5 516.5C465.9 518.9 460.9 521 456.8 520.7C452.8 520.5 447.7 517.9 445.1 514.9C442.6 512 441.1 506.7 441.6 503C442.1 499.4 445.7 496.3 448.1 493.1C450.4 489.9 454 487.3 455.6 483.7C457.2 480 456.7 475.1 457.8 471.2C458.9 467.3 460 463.4 462 460.3C463.9 457.2 466.8 454.3 469.5 452.6C472.3 450.9 475.4 449.9 478.3 449.9Z" fill="none" stroke="#fff" stroke-width="3.8"/>
<path d="M459.3 502.5Q466 499.5 469.8 493.3" fill="none" stroke="#272b3a" stroke-width="11.3" stroke-linecap="round"/><path d="M459.3 502.5Q466 499.5 469.8 493.3" fill="none" stroke="#8393C3" stroke-width="7.9" stroke-linecap="round"/>
<ellipse cx="471.7" cy="475.4" rx="4.6" ry="6" transform="rotate(8 471.7 475.4)" fill="#8393C3" stroke="#272b3a" stroke-width="1.7"/>
<path d="M243 790C241.5 785.8 236.3 773.3 234 765C231.7 756.7 229.3 748.8 229 740C228.7 731.2 230.7 719.2 232 712C233.3 704.8 236.2 699.5 237 697" fill="none" stroke="#222" stroke-width="1.8"/>
<path d="M240.3 688.3L233 695.6L237.2 696.1L240.5 698.6Z" fill="#222"/>
<path d="M255 566C254.9 563.7 253.7 557.2 254.5 552C255.3 546.8 257.4 541 260 535C262.6 529 266.7 521.5 270 516C273.3 510.5 278.3 504.3 280 502" fill="none" stroke="#222" stroke-width="1.8"/>
<path d="M284.5 493L276.9 499.1L280.8 500L283.7 502.8Z" fill="#222"/>
<path d="M218 614L198 609" fill="none" stroke="#222" stroke-width="1.8"/>
<path d="M175 595C173.7 593.8 169.3 590.3 167 588C164.7 585.7 162 582.2 161 581" fill="none" stroke="#222" stroke-width="1.8"/>
<path d="M156 574.5L158.8 583.9L161.1 580.6L164.7 578.9Z" fill="#222"/>
<path d="M279 580C279.7 578 280.8 571.1 283 568C285.2 564.9 288.8 562.6 292 561.5C295.2 560.4 300.3 561.5 302 561.5" fill="none" stroke="#222" stroke-width="1.8"/>
<path d="M310 562.5L301.6 557.4L302.2 561.4L300.5 565.1Z" fill="#222"/>
<path d="M331.5 592C332.2 593.8 334.4 600.3 336 603C337.6 605.7 340.2 607.2 341 608" fill="none" stroke="#222" stroke-width="1.8"/>
<path d="M346.5 612.5L342.4 603.6L340.6 607.2L337.2 609.4Z" fill="#222"/>
<path d="M384 626.5L392 627.5" fill="none" stroke="#222" stroke-width="1.8"/>
<path d="M432 626.5L441 623.5" fill="none" stroke="#222" stroke-width="1.8"/>
<path d="M474 608L480 598" fill="none" stroke="#222" stroke-width="1.8"/>
<path d="M497 580C498.7 579.1 503.2 576.2 507 574.5C510.8 572.8 517.8 570.8 520 570" fill="none" stroke="#222" stroke-width="1.8"/>
<path d="M530.5 565.5L520.7 565.3L523.2 568.5L523.6 572.5Z" fill="#222"/>
<path d="M64 55C63.7 55.8 62 57.4 62 60C62 62.6 61.2 66.2 63.7 70.5C66.2 74.8 73.7 80.2 77.3 85.5C80.9 90.8 83.9 96.1 85.5 102C87.1 107.9 85.5 115.5 86.9 121C88.3 126.5 90.2 129.8 93.8 134.8C97.4 139.8 105.2 145.7 108.8 151.2C112.4 156.7 114 161.7 115.6 167.6C117.2 173.5 116.1 180.8 118.4 186.7C120.7 192.6 125.7 197.5 129.3 203C132.9 208.5 137.7 214 140.2 219.5C142.7 225 143.5 230.8 144.3 236C145.1 241.2 144.9 248.5 145 251" fill="none" stroke="#fff" stroke-width="7" stroke-linecap="butt"/>
<path d="M109 55C108.7 55.8 107.2 57.4 107.2 60C107.2 62.6 106.2 66.2 108.8 70.5C111.3 74.8 118.8 80.2 122.5 85.5C126.2 90.8 129.1 96.1 130.7 102C132.3 107.9 130.4 115.1 132 121C133.6 126.9 136.3 132 140.2 137.5C144.1 143 151.9 148.5 155.3 154C158.7 159.5 159.5 164.9 160.7 170.3C161.9 175.8 160.6 181.2 162.7 186.7C164.8 192.1 169.4 197.5 173 203C176.6 208.5 181.3 214 184 219.5C186.7 225 188.4 231.4 189.3 236C190.2 240.6 189.5 245.2 189.5 247" fill="none" stroke="#fff" stroke-width="7" stroke-linecap="butt"/>
<path d="M154.5 55C154.2 55.8 152.4 57.4 152.5 60C152.6 62.6 152.6 66.2 155.3 70.5C158.1 74.8 165.6 80.2 169 85.5C172.4 90.8 174.4 96.1 175.8 102C177.2 107.9 175.6 115.1 177.2 121C178.8 126.9 181.5 132 185.4 137.5C189.3 143 197 148.5 200.4 154C203.8 159.5 204.5 164.9 205.9 170.3C207.3 175.8 206.6 181.2 208.6 186.7C210.6 192.1 214.8 197.5 218.2 203C221.6 208.5 226.4 214.3 229.1 219.5C231.8 224.7 233.5 230.1 234.4 234C235.3 237.9 234.5 241.5 234.5 243" fill="none" stroke="#fff" stroke-width="7" stroke-linecap="butt"/>
<path d="M132.5 251.5L143.5 250.5L151.7 245L149 270Z" fill="#F5CB47" stroke="#fff" stroke-width="2.6" stroke-linejoin="miter"/>
<path d="M177.5 246L187.5 245.5L195 241.5L193 265.5Z" fill="#F5CB47" stroke="#fff" stroke-width="2.6" stroke-linejoin="miter"/>
<path d="M220.5 241.5L231.5 242L240 235L238 262Z" fill="#F5CB47" stroke="#fff" stroke-width="2.6" stroke-linejoin="miter"/>
<path d="M64 55C63.7 55.8 62 57.4 62 60C62 62.6 61.2 66.2 63.7 70.5C66.2 74.8 73.7 80.2 77.3 85.5C80.9 90.8 83.9 96.1 85.5 102C87.1 107.9 85.5 115.5 86.9 121C88.3 126.5 90.2 129.8 93.8 134.8C97.4 139.8 105.2 145.7 108.8 151.2C112.4 156.7 114 161.7 115.6 167.6C117.2 173.5 116.1 180.8 118.4 186.7C120.7 192.6 125.7 197.5 129.3 203C132.9 208.5 137.7 214 140.2 219.5C142.7 225 143.5 230.8 144.3 236C145.1 241.2 144.9 248.5 145 251" fill="none" stroke="#F5CB47" stroke-width="4.9" stroke-linecap="round"/>
<path d="M109 55C108.7 55.8 107.2 57.4 107.2 60C107.2 62.6 106.2 66.2 108.8 70.5C111.3 74.8 118.8 80.2 122.5 85.5C126.2 90.8 129.1 96.1 130.7 102C132.3 107.9 130.4 115.1 132 121C133.6 126.9 136.3 132 140.2 137.5C144.1 143 151.9 148.5 155.3 154C158.7 159.5 159.5 164.9 160.7 170.3C161.9 175.8 160.6 181.2 162.7 186.7C164.8 192.1 169.4 197.5 173 203C176.6 208.5 181.3 214 184 219.5C186.7 225 188.4 231.4 189.3 236C190.2 240.6 189.5 245.2 189.5 247" fill="none" stroke="#F5CB47" stroke-width="4.9" stroke-linecap="round"/>
<path d="M154.5 55C154.2 55.8 152.4 57.4 152.5 60C152.6 62.6 152.6 66.2 155.3 70.5C158.1 74.8 165.6 80.2 169 85.5C172.4 90.8 174.4 96.1 175.8 102C177.2 107.9 175.6 115.1 177.2 121C178.8 126.9 181.5 132 185.4 137.5C189.3 143 197 148.5 200.4 154C203.8 159.5 204.5 164.9 205.9 170.3C207.3 175.8 206.6 181.2 208.6 186.7C210.6 192.1 214.8 197.5 218.2 203C221.6 208.5 226.4 214.3 229.1 219.5C231.8 224.7 233.5 230.1 234.4 234C235.3 237.9 234.5 241.5 234.5 243" fill="none" stroke="#F5CB47" stroke-width="4.9" stroke-linecap="round"/>
<path d="M132.5 251.5L143.5 250.5L151.7 245L149 270Z" fill="#F5CB47"/>
<path d="M177.5 246L187.5 245.5L195 241.5L193 265.5Z" fill="#F5CB47"/>
<path d="M220.5 241.5L231.5 242L240 235L238 262Z" fill="#F5CB47"/>
<line x1="657" y1="168" x2="587" y2="216" stroke="#fff" stroke-width="2.8" stroke-opacity="0.55"/>
<line x1="657" y1="168" x2="587" y2="216" stroke="#444" stroke-width="1.6"/>
<line x1="657" y1="168" x2="640" y2="251" stroke="#fff" stroke-width="2.8" stroke-opacity="0.55"/>
<line x1="657" y1="168" x2="640" y2="251" stroke="#444" stroke-width="1.6"/>
<line x1="376" y1="465" x2="438" y2="519" stroke="#fff" stroke-width="2.8" stroke-opacity="0.55"/>
<line x1="376" y1="465" x2="438" y2="519" stroke="#444" stroke-width="1.6"/>
<line x1="583.7" y1="522.7" x2="546" y2="545.5" stroke="#fff" stroke-width="2.8" stroke-opacity="0.55"/>
<line x1="583.7" y1="522.7" x2="546" y2="545.5" stroke="#444" stroke-width="1.6"/>
<line x1="583.7" y1="522.7" x2="618" y2="661" stroke="#fff" stroke-width="2.8" stroke-opacity="0.55"/>
<line x1="583.7" y1="522.7" x2="618" y2="661" stroke="#444" stroke-width="1.6"/>
<line x1="213" y1="980" x2="271.5" y2="866.5" stroke="#fff" stroke-width="3.4" stroke-opacity="1"/>
<line x1="213" y1="980" x2="271.5" y2="866.5" stroke="#444" stroke-width="1.6"/>
<line x1="213" y1="980" x2="304" y2="836.5" stroke="#fff" stroke-width="3.4" stroke-opacity="1"/>
<line x1="213" y1="980" x2="304" y2="836.5" stroke="#444" stroke-width="1.6"/>
<line x1="341.5" y1="907.5" x2="385" y2="961" stroke="#fff" stroke-width="2.8" stroke-opacity="0.55"/>
<line x1="341.5" y1="907.5" x2="385" y2="961" stroke="#444" stroke-width="1.6"/>
<line x1="601" y1="914.5" x2="645" y2="971" stroke="#fff" stroke-width="2.8" stroke-opacity="0.55"/>
<line x1="601" y1="914.5" x2="645" y2="971" stroke="#444" stroke-width="1.6"/>
<g style="opacity:0.999">
<text x="53.3" y="38.8" font-size="23.6" font-weight="bold" fill="#fff" stroke="#fff" stroke-width="0.35" textLength="500" lengthAdjust="spacing">Sunlight: Increases production and changes</text>
<text x="163.3" y="65.5" font-size="23.6" font-weight="bold" fill="#fff" stroke="#fff" stroke-width="0.35" textLength="405.5" lengthAdjust="spacing">chemical characteristics of melanin.</text>
<text x="612" y="133.2" font-size="23.6" font-weight="normal" fill="#1a1a1a" stroke="#1a1a1a" stroke-width="0.35">Stratum</text>
<text x="612" y="160" font-size="23.6" font-weight="normal" fill="#1a1a1a" stroke="#1a1a1a" stroke-width="0.35">spinosum</text>
<text x="344" y="444.5" font-size="23.6" font-weight="normal" fill="#1a1a1a" stroke="#1a1a1a" stroke-width="0.35">Pinched</text>
<text x="344" y="471" font-size="23.6" font-weight="normal" fill="#1a1a1a" stroke="#1a1a1a" stroke-width="0.35">off</text>
<text x="561" y="460.5" font-size="23.6" font-weight="normal" fill="#1a1a1a" stroke="#1a1a1a" stroke-width="0.35">Melanin granule</text>
<text x="561" y="487.2" font-size="23.6" font-weight="normal" fill="#1a1a1a" stroke="#1a1a1a" stroke-width="0.35">(no tyrosinase</text>
<text x="561" y="513.2" font-size="23.6" font-weight="normal" fill="#1a1a1a" stroke="#1a1a1a" stroke-width="0.35">activity)</text>
<text x="218.3" y="679.5" font-size="23.6" font-weight="normal" fill="#1a1a1a" stroke="#1a1a1a" stroke-width="0.35">Golgi</text>
<text x="334.5" y="669" font-size="23.6" font-weight="normal" fill="#1a1a1a" stroke="#1a1a1a" stroke-width="0.35">Melanosome</text>
<text x="334.5" y="696.5" font-size="23.6" font-weight="normal" fill="#1a1a1a" stroke="#1a1a1a" stroke-width="0.35">(tyrosinase</text>
<text x="334.5" y="723.5" font-size="23.6" font-weight="normal" fill="#1a1a1a" stroke="#1a1a1a" stroke-width="0.35">and melanin)</text>
<text x="92.5" y="991.5" font-size="23.6" font-weight="normal" fill="#1a1a1a" stroke="#1a1a1a" stroke-width="0.35">Tyrosinase</text>
<text x="92.5" y="1018.5" font-size="23.6" font-weight="normal" fill="#1a1a1a" stroke="#1a1a1a" stroke-width="0.35">is synthesized</text>
<text x="92.5" y="1045" font-size="23.6" font-weight="normal" fill="#1a1a1a" stroke="#1a1a1a" stroke-width="0.35">in RER</text>
<text x="390" y="971.5" font-size="23.6" font-weight="normal" fill="#1a1a1a" stroke="#1a1a1a" stroke-width="0.35">Melanocyte</text>
<text x="565" y="991.5" font-size="23.6" font-weight="normal" fill="#1a1a1a" stroke="#1a1a1a" stroke-width="0.35">Stratum basale</text>
<text x="565" y="1018.5" font-size="23.6" font-weight="normal" fill="#1a1a1a" stroke="#1a1a1a" stroke-width="0.35">cell</text>
</g>
</svg>
</body></html>
